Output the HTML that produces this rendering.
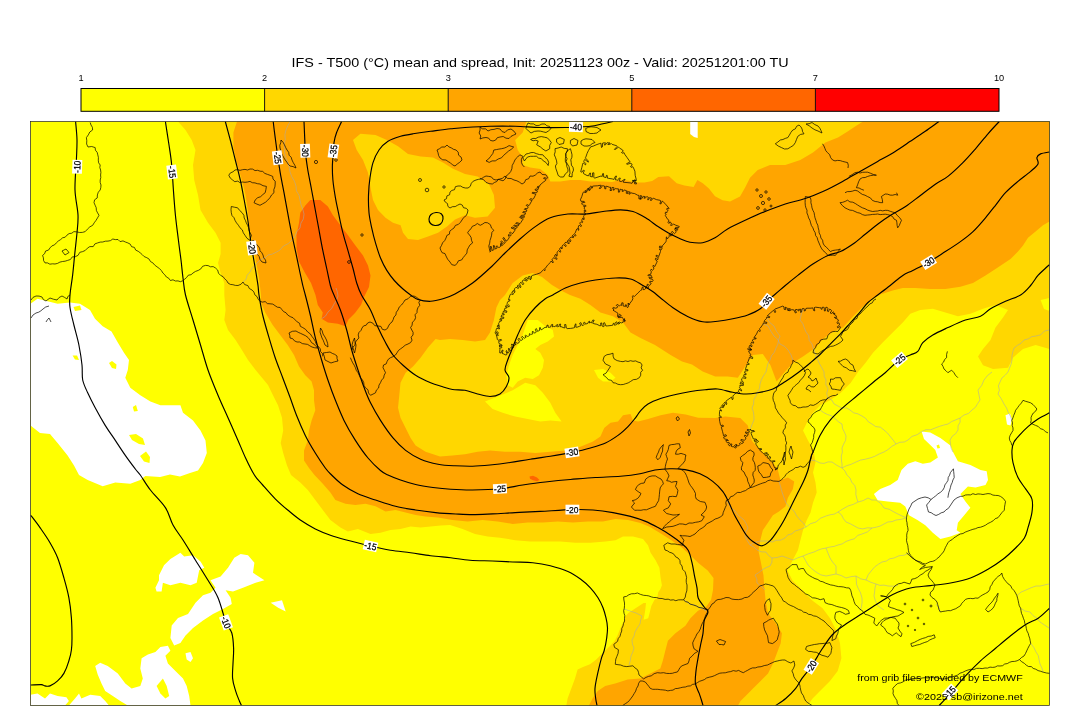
<!DOCTYPE html>
<html lang="en"><head><meta charset="utf-8"><title>IFS - T500 mean and spread</title><style>html,body{margin:0;padding:0;background:#fff;}body{width:1080px;height:718px;overflow:hidden;font-family:"Liberation Sans",sans-serif;}svg{display:block;will-change:transform;transform:translateZ(0);}</style></head><body>
<svg width="1080" height="718" viewBox="0 0 1080 718" font-family="'Liberation Sans', sans-serif"><defs><clipPath id="mapclip"><rect x="30.5" y="121.5" width="1019.0" height="584.0"/></clipPath></defs><rect x="30.5" y="121.5" width="1019.0" height="584.0" fill="#ffff00"/>
<g clip-path="url(#mapclip)">
<path d="M178.0,121.5 L185.5,130.0 L191.7,140.0 L195.5,150.0 L193.0,165.0 L194.2,180.0 L198.0,195.0 L200.5,210.0 L208.0,222.8 L215.5,232.8 L220.6,242.8 L220.6,254.0 L218.0,262.9 L220.6,273.0 L224.3,283.0 L224.3,295.0 L225.6,310.0 L224.3,320.0 L228.0,330.0 L235.6,340.0 L241.9,350.0 L248.0,360.0 L255.6,370.0 L262.0,377.7 L268.0,385.0 L273.0,395.3 L278.0,405.3 L282.0,417.8 L283.2,430.4 L280.7,443.0 L283.2,453.0 L287.0,465.5 L291.0,475.0 L300.3,482.5 L307.8,490.0 L315.3,500.0 L322.8,510.0 L330.4,520.0 L340.4,527.6 L347.9,531.4 L357.9,528.9 L370.5,533.9 L380.5,532.7 L390.5,530.0 L400.5,528.9 L410.6,526.4 L420.6,527.6 L430.6,526.4 L440.6,525.5 L450.0,525.0 L462.6,528.9 L475.0,533.9 L487.6,536.4 L500.0,537.7 L515.2,540.2 L530.2,541.4 L545.3,541.4 L560.3,541.4 L575.4,542.7 L590.4,542.7 L605.5,541.4 L615.5,540.2 L623.0,536.4 L633.0,536.4 L643.0,538.9 L648.0,545.2 L650.6,552.7 L655.6,560.2 L659.4,567.8 L660.6,577.8 L661.9,585.3 L660.5,589.0 L658.2,592.3 L657.4,596.9 L654.4,600.0 L651.3,606.0 L649.8,612.2 L648.2,618.3 L643.6,619.8 L645.2,610.7 L646.0,603.0 L643.6,603.0 L639.0,606.0 L634.4,609.0 L628.3,613.0 L625.2,616.8 L623.7,621.4 L620.7,627.5 L617.6,635.2 L614.5,641.3 L610.0,645.9 L605.3,650.5 L600.7,655.0 L596.0,659.7 L590.0,664.3 L583.0,667.0 L577.6,669.5 L575.0,678.4 L571.3,688.4 L567.6,698.5 L566.3,705.5 L807.6,705.5 L812.6,698.5 L820.0,690.9 L830.0,680.9 L837.7,670.9 L841.4,658.3 L840.0,643.3 L836.4,630.8 L830.0,618.2 L822.6,608.2 L812.6,600.7 L802.6,590.6 L792.5,580.6 L787.5,570.6 L792.5,560.6 L797.9,550.3 L800.4,540.3 L803.0,530.2 L806.7,520.2 L810.5,512.7 L813.0,502.7 L816.7,492.6 L815.5,482.6 L813.0,472.6 L815.5,462.6 L813.5,450.0 L808.0,440.4 L803.0,430.4 L808.0,420.4 L813.0,412.8 L820.5,405.0 L830.5,400.0 L840.5,393.0 L850.6,383.0 L858.0,372.0 L865.6,362.7 L873.0,352.7 L882.7,342.6 L892.7,332.6 L902.8,322.6 L910.3,313.8 L920.3,310.0 L932.8,308.8 L945.4,312.5 L957.9,316.3 L970.4,313.8 L983.0,308.8 L995.5,305.0 L1008.0,310.0 L1003.0,317.6 L995.5,327.6 L990.5,340.0 L983.0,348.9 L978.0,356.4 L983.0,365.2 L993.0,369.0 L1008.0,367.7 L1013.0,357.7 L1023.0,348.9 L1035.6,345.0 L1049.5,348.9 L1049.5,121.5Z" fill="#ffd700"/>
<path d="M1040.6,300.0 L1049.5,298.0 L1049.5,311.0 L1044.0,309.0Z" fill="#ffff00"/>
<path d="M237.0,121.5 L233.4,132.5 L233.4,147.6 L236.5,162.0 L241.0,177.0 L245.3,194.0 L247.8,210.0 L249.2,225.0 L251.7,240.0 L254.2,252.0 L256.7,265.0 L259.0,278.0 L261.0,295.0 L261.0,302.5 L265.2,312.5 L272.7,325.0 L280.2,335.0 L287.7,345.0 L294.0,355.0 L299.0,366.4 L305.3,375.2 L311.6,381.5 L314.0,390.3 L314.0,400.3 L315.3,410.3 L311.6,420.4 L309.0,430.4 L307.8,440.4 L304.0,450.4 L304.0,460.5 L309.0,468.0 L314.5,475.0 L322.8,483.8 L330.4,492.5 L335.4,500.0 L345.4,503.8 L355.4,505.0 L365.5,503.8 L375.5,506.3 L385.5,511.4 L395.5,510.0 L405.6,512.6 L415.6,515.0 L425.6,516.4 L438.0,517.6 L452.5,520.0 L467.6,521.4 L482.6,520.0 L497.7,521.4 L512.7,523.9 L527.7,522.6 L542.8,522.6 L557.8,521.4 L572.9,522.6 L587.9,521.4 L603.0,521.4 L615.5,518.9 L628.0,520.0 L640.5,523.0 L650.0,527.0 L660.0,533.0 L671.0,540.0 L682.0,547.5 L691.0,556.0 L699.0,563.5 L707.7,570.4 L713.5,578.0 L713.0,590.0 L711.0,600.0 L706.0,607.0 L698.0,610.7 L690.4,618.2 L685.4,625.7 L675.4,633.3 L667.9,640.8 L665.3,650.8 L662.8,660.8 L660.3,668.4 L650.3,673.4 L640.3,678.4 L627.7,679.6 L615.2,683.4 L605.2,685.9 L597.7,690.9 L592.6,698.5 L588.9,705.5 L738.0,705.5 L740.5,701.0 L745.6,695.9 L753.0,688.4 L760.6,680.9 L768.0,673.4 L773.0,663.4 L776.9,653.3 L780.7,643.3 L781.9,633.3 L775.6,623.2 L768.0,613.2 L765.6,600.7 L764.4,588.0 L763.5,575.6 L761.0,563.0 L758.5,551.0 L760.3,540.3 L762.8,530.2 L767.9,522.7 L772.9,515.2 L779.0,511.4 L785.4,506.4 L787.9,497.7 L792.9,488.9 L794.2,481.4 L787.9,477.6 L780.4,480.0 L777.9,470.0 L772.9,462.6 L765.3,455.0 L757.8,447.5 L752.0,441.0 L750.3,435.4 L747.8,425.4 L740.3,417.9 L725.2,416.6 L715.2,417.9 L698.2,417.8 L685.7,414.5 L673.0,412.8 L660.6,415.3 L648.0,419.0 L638.0,421.6 L633.0,420.4 L630.5,414.0 L623.0,415.3 L618.0,421.6 L610.5,422.8 L604.2,427.9 L600.4,436.6 L593.0,441.6 L580.4,446.7 L565.3,450.4 L550.3,451.7 L535.3,453.0 L520.0,451.7 L505.0,451.7 L490.0,450.4 L477.6,451.7 L465.0,454.2 L452.5,455.4 L440.0,456.5 L425.6,451.7 L415.6,445.4 L410.6,437.9 L405.6,427.9 L400.5,417.8 L398.0,407.8 L399.3,395.3 L400.5,382.7 L405.6,372.7 L413.0,366.4 L420.6,357.7 L428.0,347.6 L435.6,338.9 L440.0,340.0 L450.0,338.9 L462.6,340.0 L475.0,341.4 L485.0,340.0 L490.0,332.6 L493.9,320.0 L496.4,307.5 L500.0,300.0 L505.0,295.0 L512.7,283.0 L522.7,275.4 L532.8,273.0 L542.0,277.0 L552.0,285.0 L562.0,291.0 L570.0,295.0 L580.4,298.8 L590.4,305.0 L600.4,312.5 L613.0,316.3 L623.0,322.6 L630.5,332.6 L640.5,338.0 L655.0,345.0 L670.6,355.0 L682.0,361.4 L692.0,364.5 L702.7,371.5 L715.2,376.5 L727.7,376.5 L737.8,377.7 L747.8,362.7 L752.8,355.0 L762.8,354.0 L770.4,365.0 L776.6,381.5 L784.0,372.7 L793.0,362.7 L803.0,356.4 L815.5,347.7 L823.0,338.9 L833.0,331.5 L843.0,327.6 L853.0,316.5 L862.0,307.5 L870.0,300.5 L880.0,294.5 L892.7,290.5 L902.8,288.0 L915.3,288.0 L930.3,289.0 L945.4,289.0 L960.4,286.7 L973.0,283.0 L985.5,275.4 L995.5,269.0 L1003.0,264.0 L1010.5,259.0 L1018.0,251.6 L1023.0,245.4 L1028.0,237.8 L1035.6,231.6 L1043.0,225.3 L1049.5,221.5 L1049.5,121.5 L863.0,121.5 L855.5,126.3 L848.0,131.3 L838.0,137.6 L825.4,142.6 L813.0,152.6 L800.3,160.0 L785.3,165.0 L770.0,165.0 L757.7,170.0 L750.0,177.7 L745.0,187.7 L740.0,196.5 L730.0,201.5 L722.6,200.2 L715.0,196.2 L708.9,188.6 L702.8,183.2 L697.4,180.0 L693.6,187.0 L684.4,185.5 L676.7,183.2 L669.0,176.3 L658.3,177.0 L652.2,180.9 L644.5,182.4 L635.3,182.4 L627.7,180.5 L620.0,180.0 L612.0,182.0 L603.0,181.4 L590.4,181.4 L580.4,180.0 L570.4,180.0 L560.3,181.4 L550.3,181.4 L547.8,175.0 L540.3,169.0 L530.2,167.6 L522.7,165.0 L522.7,157.6 L517.7,150.0 L515.2,140.0 L522.7,132.5 L526.5,121.5Z" fill="#ffa500"/>
<path d="M353.0,140.0 L360.4,133.8 L375.5,135.0 L386.8,140.0 L398.0,146.3 L408.0,154.0 L420.6,156.4 L433.0,157.6 L443.0,162.6 L452.5,168.5 L465.0,174.0 L477.6,176.4 L488.9,184.0 L493.9,195.0 L495.0,207.7 L487.6,216.5 L475.0,217.8 L465.0,215.3 L455.0,219.5 L447.0,226.5 L438.0,232.8 L428.0,236.6 L418.0,240.0 L408.0,239.0 L403.0,232.8 L400.6,225.3 L393.0,222.8 L385.5,217.8 L378.0,210.0 L373.0,200.0 L370.5,187.7 L368.0,172.7 L363.0,160.0 L356.7,150.0Z" fill="#ffd700"/>
<path d="M527.7,320.0 L537.8,320.0 L545.3,326.3 L552.8,330.0 L554.0,336.4 L547.8,341.4 L540.3,345.0 L535.3,348.9 L540.3,352.7 L544.0,360.0 L542.8,367.7 L539.0,375.2 L532.8,379.0 L525.2,377.7 L517.7,381.5 L512.7,387.8 L507.7,385.2 L506.4,375.2 L509.0,365.2 L512.7,355.0 L517.7,345.0 L522.7,335.0 L525.2,327.6Z" fill="#ffff00"/>
<path d="M485.0,401.5 L497.7,396.5 L512.7,390.3 L525.2,382.7 L535.3,385.2 L542.8,392.8 L550.3,402.8 L555.3,412.8 L561.6,421.6 L550.3,420.4 L540.3,421.6 L527.7,419.0 L515.2,416.6 L502.7,412.8 L492.6,409.0Z" fill="#ffff00"/>
<path d="M594.0,370.0 L603.0,369.0 L610.5,372.7 L615.5,377.7 L610.5,381.5 L603.0,381.5 L598.0,377.7Z" fill="#ffff00"/>
<path d="M310.3,200.0 L320.3,200.0 L327.9,206.5 L332.9,215.3 L340.4,225.3 L348.0,235.3 L355.4,245.4 L363.0,255.4 L368.0,265.4 L370.5,275.4 L369.0,287.0 L364.5,296.0 L361.0,305.0 L355.0,313.0 L348.5,319.5 L345.4,326.3 L337.9,323.8 L327.9,322.6 L321.6,318.8 L322.8,312.5 L317.8,305.0 L315.5,295.0 L311.0,283.0 L304.5,272.0 L298.8,261.0 L296.5,247.9 L296.5,235.3 L299.0,222.8 L300.3,212.8 L305.3,205.5Z" fill="#ff6600"/>
<path d="M529.5,476.5 L533.0,475.8 L537.0,477.5 L539.5,480.0 L537.0,481.3 L533.0,480.3 L530.0,478.8Z" fill="#ff6600"/>
<path d="M30.5,303.8 L37.5,298.8 L47.6,301.3 L57.6,303.8 L70.0,302.5 L80.0,303.8 L90.0,310.0 L95.0,318.8 L102.7,326.3 L111.5,331.4 L117.8,342.6 L124.0,352.7 L129.0,360.0 L127.8,370.0 L125.3,377.7 L130.3,387.8 L140.3,395.3 L150.4,401.5 L160.4,405.3 L170.4,405.3 L180.4,405.3 L183.0,412.8 L193.0,420.4 L200.5,430.4 L205.5,440.4 L206.8,453.0 L203.0,463.0 L198.0,470.5 L190.0,473.0 L180.0,476.5 L170.0,474.5 L160.0,477.0 L145.4,476.0 L140.3,480.0 L130.3,483.8 L115.3,482.5 L102.7,486.3 L87.7,480.0 L79.0,475.0 L74.0,465.5 L67.6,455.4 L57.6,443.0 L50.0,434.0 L40.0,433.0 L30.5,425.4Z" fill="#ffffff"/>
<path d="M159.0,575.3 L164.0,565.2 L170.4,559.0 L180.4,552.7 L184.2,556.5 L193.0,555.2 L200.5,561.5 L204.3,567.8 L199.2,570.3 L196.7,582.8 L190.5,585.3 L180.4,582.8 L170.4,585.3 L162.9,582.8 L161.6,591.6 L156.6,591.6 L155.4,587.8 L159.0,580.3Z" fill="#ffffff"/>
<path d="M210.5,580.3 L220.6,576.5 L228.0,567.8 L234.3,557.7 L240.6,554.0 L248.0,555.2 L254.4,562.7 L253.0,572.8 L264.4,580.3 L255.6,582.8 L243.0,587.8 L233.0,591.6 L225.6,590.3 L230.6,597.8 L231.8,604.0 L223.0,609.0 L213.0,614.0 L203.0,620.4 L193.0,628.0 L185.5,635.4 L180.4,643.0 L174.2,645.5 L170.4,638.0 L171.7,625.4 L178.0,617.9 L188.0,614.0 L195.5,602.8 L203.0,595.3 L210.5,592.8 L215.5,587.8Z" fill="#ffffff"/>
<path d="M270.7,602.8 L282.0,600.3 L285.7,611.6 L278.2,607.8Z" fill="#ffffff"/>
<path d="M95.2,665.9 L100.2,662.8 L107.7,665.9 L117.8,673.4 L125.3,683.4 L131.6,688.4 L140.3,685.9 L142.8,678.4 L140.3,668.4 L141.6,658.3 L147.9,654.6 L155.4,652.0 L160.4,647.0 L167.9,645.8 L170.4,650.8 L165.4,655.8 L167.9,663.4 L175.4,670.9 L183.0,678.4 L186.7,685.9 L189.2,695.9 L190.5,705.5 L127.8,705.5 L120.3,701.0 L112.8,695.9 L105.2,690.9 L101.5,683.4 L97.7,674.6Z" fill="#ffffff"/>
<path d="M30.5,694.7 L37.5,693.4 L45.0,698.5 L50.0,693.4 L57.6,695.9 L66.4,697.2 L68.9,701.0 L65.0,705.5 L30.5,705.5Z" fill="#ffffff"/>
<path d="M68.9,705.5 L75.0,698.5 L79.0,693.4 L81.4,698.5 L90.2,694.7 L100.2,695.9 L105.2,701.0 L109.0,705.5Z" fill="#ffffff"/>
<path d="M185.5,653.3 L190.5,652.0 L193.0,658.3 L190.5,662.0 L186.7,659.6Z" fill="#ffffff"/>
<path d="M921.6,431.6 L930.3,432.4 L940.4,437.9 L950.4,445.4 L953.0,452.0 L957.9,461.3 L970.4,465.0 L980.5,470.0 L986.7,471.3 L988.0,480.0 L985.5,485.0 L975.5,487.6 L967.9,486.4 L960.4,493.9 L965.4,501.4 L970.4,507.7 L964.2,515.2 L957.9,522.7 L956.7,530.2 L960.4,532.8 L950.4,536.5 L940.4,539.0 L932.8,532.8 L925.3,525.2 L917.8,520.2 L909.0,515.2 L905.3,506.4 L900.2,502.7 L887.7,501.4 L877.7,500.2 L873.9,493.9 L880.2,488.9 L890.2,485.0 L897.7,480.0 L901.5,470.0 L907.8,463.8 L915.3,461.3 L922.8,463.8 L930.3,462.6 L937.9,457.5 L935.3,450.0 L930.3,445.0 L924.0,439.0Z" fill="#ffffff"/>
<path d="M1005.5,415.3 L1010.0,413.5 L1011.8,419.0 L1010.5,425.4 L1007.0,424.5Z" fill="#ffffff"/>
<path d="M690.2,121.5 L697.7,121.5 L697.7,138.0 L694.0,137.0 L690.2,134.0Z" fill="#ffffff"/>
<path d="M109.0,363.0 L112.0,361.0 L116.5,364.5 L116.0,369.0 L112.0,368.0Z" fill="#ffff00"/>
<path d="M129.0,435.0 L136.0,434.0 L143.0,438.5 L145.0,445.0 L139.0,444.0 L132.0,440.0Z" fill="#ffff00"/>
<path d="M140.0,456.0 L146.0,451.5 L150.0,457.0 L149.5,463.0 L144.0,461.5Z" fill="#ffff00"/>
<path d="M132.8,407.0 L136.0,405.0 L137.8,411.0 L134.0,411.6Z" fill="#ffff00"/>
<path d="M72.6,355.5 L77.0,355.5 L79.0,360.0 L75.0,359.5Z" fill="#ffff00"/>
<path d="M73.5,307.0 L80.0,305.5 L81.5,310.0 L75.0,311.0Z" fill="#ffff00"/>
<path d="M156.6,685.9 L162.9,678.4 L166.7,685.9 L169.2,695.9 L165.4,698.5 L160.4,693.4Z" fill="#ffff00"/>
<path d="M936.5,445.5 L939.0,444.5 L940.0,448.0 L937.5,448.5Z" fill="#ffff00"/>
<g fill="none" stroke="#a8a8a8" stroke-width="0.55" stroke-linejoin="round">
<path d="M706.0,611.0 L702.3,608.5 L698.0,607.0 L694.3,604.8 L690.0,604.4 L684.0,600.0"/>
<path d="M624.0,609.0 L630.0,611.0 L636.0,613.0 L642.0,616.0 L640.7,619.9 L640.0,624.0 L637.3,627.9 L635.0,632.0 L634.0,636.2 L632.0,640.0 L632.4,644.1 L634.0,648.0 L632.8,652.1 L631.0,656.0 L630.3,660.6 L629.0,665.0"/>
<path d="M726.5,500.0 L728.7,504.0 L731.0,508.0 L735.0,511.0 L738.0,515.0 L744.0,520.0 L746.3,523.9 L748.0,528.0 L745.9,531.8 L745.0,536.0 L747.2,540.7 L750.0,545.0 L753.9,547.0 L757.0,550.0 L761.3,551.8 L766.0,552.0 L768.5,555.5 L772.0,558.0 L771.9,562.2 L770.0,566.0 L765.9,567.7 L762.0,570.0 L758.6,572.7 L755.0,575.0 L756.8,578.8 L757.0,583.0 L761.2,586.2 L765.0,590.0"/>
<path d="M750.0,545.0 L754.8,542.4 L760.0,541.0 L764.0,541.0 L768.1,541.1 L772.0,542.0 L776.2,540.3 L780.9,540.1 L785.0,538.0 L787.8,534.9 L792.0,533.8 L795.0,531.0 L800.6,529.4 L806.0,527.0 L810.6,523.7 L816.0,522.0 L820.5,518.2 L826.0,516.0 L830.0,514.8 L834.3,514.1 L838.0,512.0 L842.9,508.9 L848.0,506.0 L853.2,504.4 L858.0,502.0 L863.2,500.6 L868.0,498.0 L871.8,500.0 L876.0,500.0"/>
<path d="M779.0,481.4 L780.6,486.7 L782.0,492.0 L783.9,497.5 L786.0,503.0 L789.6,507.4 L794.0,511.0 L796.6,515.8 L800.0,520.0 L803.5,523.1 L806.0,527.0"/>
<path d="M810.5,460.0 L815.5,460.8 L820.0,463.0 L824.1,463.4 L828.0,461.9 L832.0,462.0 L836.8,465.3 L842.0,468.0 L845.0,471.1 L846.9,475.0 L850.0,478.0 L851.7,482.1 L854.8,485.6 L856.0,490.0 L855.8,494.2 L856.7,498.1 L858.0,502.0"/>
<path d="M772.0,558.0 L777.1,557.5 L782.0,556.0 L787.5,558.0 L793.0,560.0 L797.9,557.8 L803.0,556.0 L808.4,553.8 L814.0,552.0 L817.9,550.2 L821.8,548.8 L826.0,548.0 L830.0,547.0 L834.1,546.4 L838.0,545.0 L842.2,543.9 L845.9,541.5 L850.0,540.0 L854.4,538.8 L857.7,535.4 L862.0,534.0 L867.5,531.9 L872.0,528.0 L876.2,527.2 L880.2,526.0 L884.0,524.0 L887.8,522.0 L892.1,521.6 L896.0,520.0 L901.3,519.3 L906.5,517.7"/>
<path d="M803.0,556.0 L805.5,560.5 L808.0,565.0 L811.8,568.7 L816.0,572.0 L820.7,574.8 L826.0,576.0 L831.0,575.0 L836.0,574.0 L841.2,575.5 L846.0,578.0 L850.9,576.7 L856.0,576.0 L860.7,578.8 L866.0,580.0 L870.9,582.3 L876.0,584.0 L879.9,585.4 L884.0,585.1 L888.0,586.0 L892.9,586.2 L897.8,585.6"/>
<path d="M826.0,548.0 L827.9,553.0 L830.0,558.0 L832.7,562.2 L836.0,566.0 L836.0,570.0 L836.0,574.0"/>
<path d="M856.0,576.0 L856.3,580.1 L856.5,584.1 L858.0,588.0 L860.5,592.8 L862.0,598.0 L862.1,602.3 L861.5,606.6 L860.2,610.7"/>
<path d="M876.0,584.0 L875.0,587.9 L874.6,592.0 L874.0,596.0 L875.5,601.2 L878.0,606.0 L884.0,610.0"/>
<path d="M866.0,580.0 L868.3,574.6 L872.0,570.0 L874.9,566.7 L878.3,564.3 L882.0,562.0 L886.2,561.1 L889.8,558.8 L894.0,558.0 L898.9,555.8 L904.2,555.2 L909.0,552.8"/>
<path d="M838.0,512.0 L841.4,514.7 L843.4,518.6 L846.0,522.0 L850.2,523.7 L854.1,525.8 L858.0,528.0 L862.7,528.9 L867.3,527.8 L872.0,528.0"/>
<path d="M876.0,500.0 L880.7,503.3 L884.0,508.0 L889.3,509.3 L894.0,512.0 L898.1,514.1 L902.2,516.1 L906.5,517.7"/>
<path d="M842.0,468.0 L846.6,465.7 L851.4,464.2 L856.0,462.0 L860.5,460.1 L865.3,459.2 L870.0,458.0 L874.8,456.3 L879.3,453.9 L884.0,452.0 L888.1,449.5 L891.8,446.4 L896.0,444.0 L899.9,442.3 L904.2,442.0 L908.0,440.0 L912.0,436.4 L917.2,434.7 L921.6,431.6 L925.9,429.7 L930.7,429.8 L935.0,428.0 L939.3,426.4 L943.6,425.1 L948.0,424.0 L951.7,421.5 L955.9,419.8 L960.0,418.0 L963.9,415.1 L968.5,413.4 L972.0,410.0 L975.4,407.3 L977.6,403.6 L980.0,400.0 L979.0,395.0 L978.0,390.0 L981.7,385.4 L984.0,380.0 L987.5,375.5 L992.0,372.0"/>
<path d="M828.0,398.0 L831.8,400.1 L834.1,404.0 L838.0,406.0 L841.7,408.1 L846.3,407.9 L850.0,410.0 L853.6,412.8 L858.0,413.9 L862.0,416.0 L865.6,418.3 L868.3,421.8 L872.0,424.0 L875.7,426.6 L880.4,427.2 L884.0,430.0 L887.5,433.1 L890.4,436.7 L893.3,440.3 L896.0,444.0"/>
<path d="M820.0,410.0 L823.7,412.6 L827.7,414.6 L832.0,416.0 L835.3,418.7 L838.3,421.8 L842.0,424.0 L842.5,428.3 L844.4,432.1 L846.0,436.0 L845.6,440.3 L843.6,444.1 L842.0,448.0 L842.4,452.0 L841.3,456.0 L841.4,460.0 L842.0,464.0 L842.0,468.0"/>
<path d="M792.9,360.2 L791.0,354.8 L788.0,350.0 L784.6,346.3 L780.0,344.0 L777.8,339.4 L774.0,336.0 L770.8,331.1 L768.0,326.0 L762.8,323.8"/>
<path d="M767.0,318.0 L769.8,322.6 L774.0,326.0 L776.4,331.3 L780.0,336.0 L778.6,340.0 L777.8,344.2 L776.0,348.0 L774.4,352.2 L771.5,355.7 L770.0,360.0 L767.9,363.7 L766.9,367.9 L766.0,372.0 L763.5,375.7 L761.4,379.7 L760.0,384.0 L759.6,388.3 L757.4,392.0 L756.0,396.0 L753.8,399.7 L753.6,404.1 L752.0,408.0 L753.4,411.9 L753.9,415.9 L754.0,420.0 L752.1,424.5 L750.3,429.0"/>
<path d="M803.0,308.8 L801.3,314.3 L800.0,320.0 L802.8,323.6 L804.3,327.8 L806.0,332.0 L808.7,335.7 L809.2,340.4 L812.0,344.0 L813.2,348.0 L814.5,352.1 L816.0,356.0 L817.8,360.1 L819.7,364.1 L822.0,368.0 L824.0,371.8 L824.2,376.2 L826.0,380.0 L825.8,384.5 L828.0,388.8 L826.7,393.4 L828.0,397.8"/>
<path d="M1049.0,330.0 L1044.3,331.1 L1040.7,334.8 L1036.0,336.0 L1031.8,336.6 L1028.1,338.9 L1024.0,340.0 L1021.1,343.2 L1017.4,345.4 L1014.0,348.0 L1012.8,351.9 L1011.9,355.9 L1012.0,360.0 L1011.1,364.2 L1009.5,368.1 L1008.0,372.0 L1005.2,375.2 L1001.9,378.1 L1000.0,382.0 L998.4,385.8 L999.4,390.1 L998.0,394.0 L1001.3,398.8 L1004.0,404.0 L1006.5,407.9 L1008.1,412.1 L1010.4,416.0 L1011.8,420.4"/>
<path d="M960.0,418.0 L960.1,422.1 L958.0,425.9 L958.0,430.0 L955.7,433.6 L952.2,436.3 L950.0,440.0 L950.5,444.1 L951.1,448.2 L953.0,452.0"/>
<path d="M1016.9,595.7 L1021.0,592.1 L1026.0,590.0 L1030.9,587.8 L1036.0,586.0 L1040.4,586.0 L1044.7,584.9 L1049.0,584.0"/>
<path d="M1020.6,608.2 L1024.9,611.0 L1030.0,612.0 L1033.1,615.6 L1037.0,618.4 L1040.0,622.0 L1044.5,625.0 L1049.0,628.0"/>
<path d="M1030.7,643.3 L1033.8,647.4 L1036.0,652.0 L1038.3,655.7 L1039.1,659.9 L1040.0,664.0 L1041.9,668.0 L1043.2,672.2"/>
<path d="M940.4,612.0 L938.8,607.7 L936.0,604.0"/>
<path d="M243.0,282.0 L246.1,279.2 L247.2,275.0 L250.0,272.0 L252.0,268.1 L255.2,265.2 L258.0,262.0 L261.2,259.5 L265.1,257.9 L268.0,255.0 L272.3,254.1 L276.2,252.2 L280.0,250.0 L283.4,246.0 L288.2,243.6 L292.0,240.0 L295.0,236.2 L296.8,231.7 L300.0,228.0 L300.9,223.2 L303.4,218.9 L304.0,214.0 L302.8,209.3 L301.0,204.8 L300.0,200.0 L299.0,195.2 L296.4,190.9 L296.0,186.0 L294.4,181.2 L291.8,176.7 L290.0,172.0 L289.2,167.2 L287.9,162.5 L286.0,158.0 L284.7,153.4 L284.6,148.7 L284.0,144.0 L285.3,139.4 L284.9,134.6 L286.0,130.0 L287.9,125.7 L290.0,121.5"/>
<path d="M321.6,318.8 L325.5,316.1 L328.0,312.0 L331.7,308.5 L334.0,304.0 L336.5,300.3 L338.0,296.0 L337.3,291.9 L336.0,288.0"/>
</g>
<g fill="none" stroke="#000" stroke-width="0.7" stroke-linejoin="round">
<path d="M604.2,356.4 L606.9,354.7 L610.0,354.2 L613.0,353.2 L613.1,356.2 L614.2,359.0 L617.2,360.6 L620.5,361.4 L623.0,361.7 L625.5,360.9 L628.0,361.5 L630.5,360.7 L633.0,361.3 L635.7,360.9 L638.0,362.1 L640.5,362.7 L642.1,365.0 L641.1,367.9 L642.6,370.2 L640.7,372.3 L640.7,375.3 L639.3,377.7 L636.5,379.3 L633.2,379.7 L630.5,381.5 L628.2,382.9 L625.7,383.7 L623.2,384.5 L620.5,384.7 L617.9,384.3 L615.6,383.1 L613.0,382.7 L611.5,380.3 L608.4,379.8 L606.7,377.7 L603.0,374.7 L606.1,373.1 L608.0,370.2 L610.5,366.4 L608.0,365.1 L605.5,364.0 L603.0,360.2Z"/>
<path d="M671.5,444.6 L674.2,444.4 L676.8,443.8 L679.5,443.8 L680.3,447.8 L678.0,449.0 L676.3,451.0 L675.5,454.2 L678.3,454.2 L681.0,453.4 L683.5,454.2 L685.9,455.0 L685.3,457.8 L685.0,460.6 L683.2,463.2 L681.0,465.4 L677.9,468.6 L681.0,469.4 L683.2,470.8 L685.0,472.6 L686.4,475.4 L687.5,478.3 L689.0,483.0 L690.5,485.6 L692.3,487.9 L694.1,490.6 L695.5,493.5 L695.4,496.3 L696.3,499.0 L700.3,501.5 L705.0,502.3 L706.7,507.0 L705.9,509.6 L704.3,511.9 L701.0,515.0 L704.3,516.7 L701.9,520.7 L698.8,521.8 L695.5,522.3 L692.3,523.1 L689.0,523.0 L685.9,524.7 L682.7,524.0 L679.5,523.9 L676.3,525.2 L673.0,526.3 L669.9,526.7 L666.7,527.0 L662.6,528.7 L664.5,526.2 L666.7,523.9 L669.2,522.0 L671.5,519.9 L673.8,518.2 L676.3,516.7 L679.5,514.3 L676.3,514.9 L673.0,515.0 L669.8,514.3 L666.7,513.5 L663.4,510.3 L665.8,508.9 L668.3,507.9 L670.7,503.9 L668.3,500.7 L669.0,496.7 L672.6,496.3 L676.3,496.7 L677.4,493.6 L677.9,490.3 L675.5,486.3 L676.4,484.0 L677.0,481.5 L674.2,481.7 L671.5,482.3 L669.2,481.1 L666.7,480.7 L667.8,478.3 L669.0,475.9 L667.5,472.6 L665.0,469.4 L665.3,466.6 L665.9,463.8 L666.6,461.4 L667.5,459.0 L666.6,456.6 L665.9,454.2 L667.3,451.9 L668.3,449.4 L669.0,445.4Z"/>
<path d="M649.0,476.7 L652.1,475.9 L655.4,475.9 L658.1,477.6 L661.0,479.0 L662.6,481.3 L663.4,483.9 L661.6,485.7 L660.2,487.9 L659.7,491.1 L659.4,494.3 L659.1,497.5 L658.6,500.7 L656.9,503.4 L655.4,506.3 L652.2,507.4 L649.0,508.7 L646.4,509.8 L643.7,509.7 L641.0,510.3 L637.8,510.2 L634.6,510.3 L631.4,507.0 L633.0,505.0 L634.6,503.0 L632.2,500.7 L635.2,499.9 L637.8,498.3 L639.6,496.1 L641.0,493.5 L638.1,491.6 L635.4,489.5 L636.7,486.9 L638.6,484.7 L641.3,483.4 L644.2,483.0 L645.8,479.0Z"/>
<path d="M623.7,596.9 L626.5,596.4 L628.8,594.8 L631.4,593.8 L634.5,593.7 L637.5,593.0 L640.5,594.4 L643.6,595.3 L646.2,595.5 L648.8,595.9 L651.3,596.9 L653.8,597.5 L656.5,597.5 L659.0,598.4 L662.1,598.5 L665.1,599.4 L668.2,599.2 L670.6,600.1 L673.4,599.8 L675.8,600.7 L678.3,599.9 L680.9,599.8 L683.5,599.9 L685.5,601.6 L688.1,602.2 L690.0,604.0 L693.1,604.9 L696.2,605.9 L699.0,607.5 L702.1,607.9 L705.0,609.1 L708.0,609.9 L707.2,612.7 L705.7,615.2 L704.7,618.3 L703.4,621.4 L702.1,623.8 L701.1,626.4 L700.3,629.0 L698.9,631.6 L696.9,634.0 L695.7,636.7 L694.1,639.7 L692.7,642.8 L693.1,646.0 L694.2,649.0 L698.0,651.3 L694.2,653.6 L692.1,656.1 L689.6,658.2 L689.0,660.9 L688.0,663.5 L685.0,664.6 L682.0,665.8 L680.0,667.5 L678.8,669.8 L677.4,672.0 L674.8,672.5 L672.3,673.3 L669.7,673.5 L666.6,673.4 L663.6,672.7 L660.5,673.0 L657.4,672.7 L654.1,673.7 L651.3,675.8 L648.6,676.4 L646.0,677.4 L643.6,678.9 L641.3,676.9 L639.0,675.0 L638.5,672.3 L637.5,669.7 L635.0,667.9 L632.9,665.8 L629.9,666.2 L626.8,666.6 L623.6,666.2 L620.7,665.0 L618.0,664.7 L615.3,664.3 L615.5,661.7 L615.8,659.1 L616.8,656.6 L618.1,653.3 L618.4,649.7 L614.5,647.4 L613.8,644.4 L617.6,641.3 L618.2,638.6 L620.0,636.3 L620.7,633.6 L621.7,631.1 L621.8,628.4 L623.0,626.0 L623.5,623.4 L624.6,621.0 L624.5,618.3 L624.8,615.7 L624.0,613.2 L623.7,610.7 L624.3,608.2 L624.5,605.6 L624.5,603.0 L623.9,600.0Z"/>
<path d="M683.5,599.9 L685.3,597.1 L685.8,593.8 L686.8,590.9 L687.0,588.0 L687.0,585.0 L686.3,582.5 L686.2,580.0 L686.6,577.5 L686.0,575.0 L685.1,571.8 L682.6,569.3 L682.0,566.0 L680.2,563.6 L679.9,560.4 L678.0,558.0 L675.6,556.8 L674.2,554.5 L672.0,553.0 L669.6,552.3 L667.4,550.8 L665.0,550.0 L663.8,545.3 L667.6,542.8 L671.2,544.0 L675.0,544.0 L677.5,544.6 L680.1,544.7 L682.6,545.3 L683.0,542.7 L683.9,540.3 L682.1,537.7 L680.0,535.3 L682.5,535.8 L685.0,535.8 L687.5,536.1 L690.0,536.5 L692.5,535.3 L695.0,534.0 L697.3,531.6 L699.8,529.4 L702.7,527.7 L704.9,526.1 L706.5,523.9 L709.0,522.7 L712.2,521.0 L715.2,519.0 L717.9,518.2 L720.4,516.9 L722.7,515.2 L723.2,512.6 L724.2,510.2 L725.2,507.7 L726.3,505.3 L725.8,502.7 L726.5,500.2 L729.2,499.3 L730.6,496.7 L733.4,495.9 L735.3,493.9 L737.6,492.4 L740.4,492.5 L742.8,491.4 L745.5,490.6 L747.8,488.9 L750.3,487.6 L749.2,484.4 L747.8,481.4 L747.2,478.0 L745.3,475.0 L744.0,472.0 L741.5,470.0 L741.4,467.4 L742.4,465.1 L742.8,462.6 L740.9,460.4 L740.3,457.5 L742.7,455.5 L745.3,453.8 L747.5,451.4 L750.3,450.0 L754.0,452.5 L754.1,455.1 L753.0,457.5 L752.8,460.0 L754.3,462.3 L755.0,464.9 L755.3,467.6 L755.2,470.3 L753.2,472.4 L752.8,475.0 L753.6,477.5 L754.3,480.0 L754.0,482.6 L752.0,485.0 L750.3,487.6 L752.9,487.0 L755.4,485.9 L757.8,484.9 L760.3,483.9 L762.8,483.0 L765.5,482.3 L767.8,480.7 L770.4,480.0 L773.2,481.0 L776.1,481.2 L779.0,481.4 L781.2,480.0 L783.0,478.3 L784.7,476.5 L786.1,474.4 L787.9,472.6 L790.4,471.0 L793.1,469.6 L795.4,467.6 L797.9,467.4 L800.4,466.2 L803.1,467.3 L805.5,466.3 L806.8,463.9 L808.8,462.1 L810.5,460.0 L811.3,457.5 L811.5,454.8 L813.0,452.5 L812.3,450.0 L811.5,447.5 L810.5,445.0 L812.2,442.7 L813.0,440.0 L813.7,437.5 L813.7,434.9 L814.6,432.5 L815.0,430.0 L813.8,427.5 L811.7,425.9 L810.2,423.6 L808.0,422.0 L808.7,419.3 L810.9,417.5 L812.0,415.0 L814.4,412.9 L817.0,411.2 L820.0,410.0 L821.4,407.5 L822.8,404.9 L824.2,402.4 L826.0,400.1 L828.0,398.0 L830.3,396.6 L832.9,395.6 L835.7,395.4 L838.0,394.0"/>
<path d="M757.8,466.0 L760.7,464.8 L763.0,462.6 L766.1,463.1 L769.0,464.0 L770.6,467.3 L772.9,470.0 L770.8,473.0 L770.0,476.5 L766.5,477.3 L763.0,477.6 L761.3,474.6 L759.0,472.0 L758.1,469.1Z"/>
<path d="M708.0,609.9 L710.2,607.1 L712.0,604.0 L714.2,602.8 L715.7,600.6 L718.0,599.5 L720.8,599.3 L723.4,598.5 L726.0,597.5 L729.1,597.7 L731.9,599.1 L735.0,599.5 L738.5,599.6 L742.0,599.0 L744.6,597.6 L747.5,597.3 L750.0,595.8 L751.8,593.7 L753.8,591.8 L755.9,590.0 L757.9,588.1 L759.7,586.0 L762.7,585.2 L765.6,584.0 L768.3,584.5 L770.8,585.3 L773.4,586.0 L775.3,588.1 L776.9,590.5 L778.3,592.9 L779.9,595.5 L781.8,597.9 L783.0,600.7 L785.7,602.2 L788.1,604.2 L790.9,605.6 L793.6,606.6 L796.1,608.1 L798.7,609.5 L801.4,610.3 L803.5,612.1 L806.2,612.7 L808.5,614.3 L811.2,614.7 L813.6,615.9 L816.3,616.3 L818.9,617.8 L821.4,619.5 L824.0,621.0 L825.9,623.1 L827.9,625.0 L829.9,627.0 L831.9,628.9 L833.8,630.9 L833.6,633.4 L832.8,635.8 L831.9,640.6 L835.8,638.7 L836.4,636.1 L837.7,633.8 L838.7,629.0 L841.6,625.0 L837.7,623.0 L836.0,620.8 L834.8,618.2 L835.0,615.3 L835.8,612.4 L839.7,611.4 L842.7,612.7 L845.5,614.3 L849.4,613.4 L848.4,610.4 L845.2,608.6 L841.6,607.5 L839.1,607.0 L836.6,606.4 L834.3,605.5 L831.9,604.6 L828.3,604.0 L825.0,602.6 L824.0,598.7 L820.2,599.7 L817.7,598.7 L815.1,598.0 L812.4,597.8 L810.3,596.3 L808.1,594.8 L805.6,593.9 L803.3,591.9 L801.0,590.0 L798.7,588.0 L796.4,586.4 L794.3,584.5 L791.9,583.0 L789.7,580.3 L788.0,577.3 L787.4,574.7 L786.6,572.1 L786.0,569.5 L788.1,568.0 L790.2,566.5 L791.9,564.6 L796.8,564.6 L797.6,567.1 L798.7,569.5 L801.1,568.6 L803.6,568.5 L805.0,571.0 L806.5,573.4 L809.3,575.5 L812.4,577.3 L815.0,578.6 L817.8,579.5 L820.2,581.2 L822.9,581.8 L825.4,583.1 L828.0,584.0 L830.5,584.9 L833.2,585.3 L835.8,586.0 L838.4,586.6 L841.0,586.7 L843.6,587.0 L846.4,587.8 L849.4,588.0 L850.7,590.3 L851.4,592.9 L852.0,595.9 L853.3,598.7 L854.1,601.7 L855.3,604.6 L857.5,606.3 L859.2,608.5 L863.0,611.4 L865.0,614.3 L868.0,615.0 L870.9,616.3 L874.8,618.2 L873.8,623.0 L876.7,626.0 L879.6,622.0 L881.9,619.9 L884.5,618.2 L887.5,618.0 L890.4,617.3 L895.2,618.2 L897.0,620.7 L899.0,623.0 L898.9,625.6 L898.0,628.0 L899.8,631.0 L902.0,633.8 L901.0,636.7 L898.5,634.9 L896.2,632.8 L892.3,635.8 L890.0,634.0 L887.4,632.8 L885.8,630.5 L884.5,628.0 L880.6,625.0 L882.0,622.5 L884.0,620.5 L886.6,619.2 L889.3,618.1 L892.0,617.0 L895.0,616.4 L898.0,616.0 L901.0,614.2 L904.0,612.4 L900.0,610.4 L897.0,609.8 L894.2,608.5 L891.2,607.7 L888.4,606.5 L889.0,603.5 L890.4,600.7 L888.8,598.4 L886.5,596.8 L883.5,596.3 L880.6,595.8 L883.6,596.1 L886.5,596.8 L888.2,594.1 L890.4,591.9 L892.4,589.7 L893.9,587.0 L896.2,585.0 L898.7,583.7 L901.5,583.3 L904.0,582.2 L906.9,583.1 L909.8,584.0 L911.0,581.7 L911.8,579.2 L914.8,578.6 L917.6,577.3 L920.1,575.2 L923.0,573.6 L925.4,571.4 L927.9,570.1 L930.2,568.5 L932.3,566.6 L928.8,567.0 L925.4,567.5 L922.4,568.3 L919.6,569.5 L922.2,567.2 L925.4,565.6 L922.4,564.4 L919.6,562.7 L917.0,561.0 L914.4,559.4 L911.8,557.8 L909.2,555.2 L906.5,552.8"/>
<path d="M932.3,566.6 L931.2,569.6 L929.3,572.1 L928.0,575.0 L929.2,577.9 L931.3,580.1 L933.3,582.5 L935.0,585.0 L934.0,587.6 L933.0,590.2 L930.6,592.2 L930.0,595.0 L932.1,597.6 L934.9,599.4 L937.0,602.0 L937.7,604.5 L938.4,607.1 L939.0,609.7 L940.4,612.0 L942.9,611.4 L945.4,611.1 L947.9,610.6 L950.5,610.7 L953.1,609.6 L955.8,608.7 L958.1,607.2 L960.5,605.7 L961.8,603.3 L963.7,601.4 L965.5,599.4 L967.9,598.6 L970.5,598.4 L973.0,598.7 L975.5,598.0 L978.0,598.2 L980.3,596.4 L982.8,594.8 L985.4,593.5 L988.0,592.0 L989.7,589.7 L990.2,586.8 L991.9,584.5 L993.0,581.9 L994.7,580.0 L996.3,578.1 L998.1,576.4 L1000.3,575.1 L1001.8,573.0 L1002.6,576.4 L1004.3,579.4 L1006.2,581.7 L1008.1,583.9 L1010.6,585.6 L1011.9,588.3 L1014.0,590.5 L1015.6,593.0 L1016.9,595.7 L1017.6,598.2 L1018.2,600.7 L1018.7,603.3 L1019.3,605.9 L1020.6,608.2 L1021.0,610.8 L1021.5,613.4 L1022.6,615.8 L1023.4,618.3 L1024.4,620.7 L1024.8,623.3 L1025.9,625.7 L1026.3,628.4 L1026.9,630.9 L1028.2,633.3 L1028.8,635.8 L1029.7,638.2 L1030.2,640.8 L1030.7,643.3 L1029.2,645.8 L1027.9,648.3 L1026.7,650.9 L1025.5,653.5 L1024.0,656.0 L1021.5,657.5 L1019.4,659.6 L1021.7,661.7 L1024.4,663.4 L1026.3,665.2 L1028.5,666.5 L1031.3,666.6 L1033.2,668.4 L1035.7,669.2 L1038.1,670.6 L1040.7,671.3 L1043.2,672.2 L1046.6,673.0 L1050.0,673.4"/>
<path d="M750.0,668.9 L752.5,667.9 L755.3,667.9 L757.8,667.0 L761.1,666.7 L764.2,665.6 L767.5,665.0 L769.9,663.8 L772.3,662.7 L774.7,661.6 L777.3,661.0 L779.8,660.4 L782.4,660.0 L785.0,660.0 L787.8,661.8 L790.9,663.0 L793.9,661.0 L794.8,665.0 L793.6,668.1 L791.9,670.9 L793.2,673.7 L793.9,676.7 L795.2,678.9 L796.8,680.9 L798.7,682.6 L799.8,685.0 L800.2,687.5 L800.7,690.0 L801.5,693.0 L803.3,695.5 L804.3,698.3 L805.7,701.0 L807.7,702.7 L809.8,704.1 L812.0,705.5"/>
<path d="M806.5,646.5 L809.1,645.7 L811.7,645.1 L814.3,644.5 L816.9,644.2 L819.4,643.7 L822.0,643.6 L824.6,643.3 L827.3,643.2 L829.9,642.6 L830.9,645.1 L831.9,647.5 L831.4,650.4 L830.9,653.3 L828.0,657.2 L825.1,656.1 L822.0,655.3 L819.1,653.8 L816.3,652.3 L813.7,652.1 L811.1,651.5 L808.5,651.4 L805.6,649.4Z"/>
<path d="M763.6,623.0 L766.2,621.8 L768.5,620.2 L770.9,619.1 L773.4,618.2 L775.2,621.2 L777.3,624.0 L778.1,626.6 L778.6,629.3 L779.2,631.9 L778.7,634.5 L777.9,637.1 L777.3,639.7 L775.0,641.8 L772.4,643.6 L768.5,642.6 L768.0,639.2 L767.5,635.8 L766.0,632.9 L764.6,629.9 L763.8,626.5Z"/>
<path d="M769.5,598.7 L770.1,601.2 L771.0,603.6 L770.9,607.0 L770.5,610.4 L768.8,612.7 L767.5,615.3 L766.3,612.9 L765.2,610.4 L764.8,607.5 L764.6,604.6 L766.6,600.7Z"/>
<path d="M622.7,705.5 L625.2,703.8 L627.7,702.2 L629.6,700.2 L631.2,698.1 L632.8,695.9 L634.2,693.5 L635.7,691.1 L636.5,688.4 L638.0,686.0 L638.7,683.2 L640.3,680.9 L642.9,681.1 L645.3,682.0 L647.0,684.1 L648.7,686.2 L650.3,688.4 L652.7,689.3 L655.3,689.3 L657.8,689.3 L660.3,689.7 L662.9,689.9 L665.4,690.2 L667.9,690.9 L670.4,690.4 L673.0,690.1 L675.3,688.6 L677.9,688.4 L680.4,687.8 L682.9,687.2 L685.4,687.0 L687.8,686.1 L690.4,685.9 L692.5,684.4 L695.1,684.0 L697.3,682.7 L699.5,681.3 L702.0,680.5 L704.4,679.6 L706.5,678.0 L709.2,677.2 L712.0,676.6 L714.6,675.6 L717.2,674.3 L719.8,673.2 L722.5,672.9 L725.3,672.8 L728.0,672.0 L730.7,671.6 L733.3,670.6 L736.1,671.2 L738.7,670.4 L740.9,671.7 L743.3,672.7 L745.5,671.4 L747.8,670.2 L750.0,668.9"/>
<path d="M899.0,705.5 L897.3,703.4 L896.9,700.5 L895.5,698.3 L894.0,696.0 L893.0,693.6 L893.3,690.9 L892.8,688.4 L895.1,685.7 L897.8,683.4 L900.5,682.9 L903.0,681.9 L905.3,680.3 L907.9,679.6 L910.4,679.5 L912.9,679.1 L915.4,678.6 L917.9,678.6 L920.4,678.4 L922.9,677.9 L925.4,677.7 L928.0,677.9 L930.4,677.0 L933.3,677.8 L936.3,677.5 L939.1,678.3 L942.0,679.0 L944.7,678.9 L947.3,678.1 L949.8,677.3 L952.4,676.8 L955.0,676.0 L957.7,675.0 L960.0,673.2 L962.8,672.3 L965.3,671.0 L968.0,670.0 L970.8,669.3 L973.7,669.6 L976.4,668.4 L979.3,668.3 L982.2,668.6 L985.0,668.0 L987.6,668.1 L990.0,667.1 L992.6,667.4 L995.1,667.1 L997.4,665.9 L1000.0,666.0 L1002.6,665.7 L1004.7,664.0 L1007.3,663.6 L1009.5,662.3 L1012.0,661.5 L1014.6,661.4 L1017.1,660.8 L1019.4,659.6"/>
<path d="M985.6,609.4 L987.3,607.1 L989.1,604.9 L991.2,602.9 L993.0,600.7 L994.5,598.1 L996.4,595.7 L998.0,593.2 L997.8,595.7 L996.9,598.2 L996.8,600.7 L995.4,603.2 L994.4,605.8 L993.0,608.2 L990.7,610.3 L988.0,612.0Z"/>
<path d="M910.8,643.6 L914.3,642.4 L917.6,640.6 L920.1,639.4 L922.7,638.4 L925.4,637.7 L928.2,636.4 L931.3,636.0 L934.2,634.8 L935.2,637.7 L932.5,638.7 L929.8,639.9 L927.4,641.6 L924.8,642.4 L922.2,643.4 L919.6,644.5 L917.0,645.0 L914.4,645.8 L911.8,646.5Z"/>
<path d="M906.5,517.7 L906.4,520.2 L907.0,522.7 L907.2,525.2 L907.8,527.7 L908.1,530.3 L907.1,532.7 L906.7,535.2 L906.8,537.8 L906.5,540.3 L907.0,542.8 L907.8,545.2 L908.1,547.8 L908.4,550.3 L909.0,552.8 L910.8,555.6 L913.1,557.9 L915.3,560.3 L917.8,561.2 L920.4,561.9 L922.7,563.4 L925.3,564.0 L927.7,562.9 L930.1,561.7 L932.8,561.3 L935.3,560.3 L937.2,558.4 L939.4,556.8 L940.9,554.6 L942.9,552.8 L944.3,550.4 L945.3,547.7 L946.6,545.3 L947.9,542.8 L949.6,540.9 L951.9,539.8 L953.7,538.0 L955.8,536.7 L957.9,535.3 L960.3,534.0 L963.0,533.5 L965.3,532.1 L967.9,531.1 L970.4,530.2 L972.9,529.3 L975.5,528.7 L977.9,527.6 L980.6,527.2 L983.1,526.3 L985.5,525.2 L987.9,523.5 L990.5,522.3 L993.1,520.8 L995.2,518.7 L998.0,517.7 L1000.0,515.1 L1002.0,512.5 L1004.3,510.2 L1004.5,507.2 L1005.0,504.3 L1005.5,501.4 L1003.4,498.5 L1000.5,496.4 L998.1,495.5 L995.4,495.4 L992.9,495.1 L990.5,493.9 L988.0,493.6 L985.5,494.0 L983.0,494.5 L980.5,494.1 L978.0,493.9 L975.5,494.5 L972.9,493.7 L970.5,494.9 L967.9,494.8 L965.4,495.0 L963.0,496.2 L960.4,496.4 L957.0,497.8 L954.0,500.0 L952.0,503.0 L950.0,506.0 L948.4,508.4 L945.9,509.9 L944.0,512.0 L941.2,512.8 L938.7,514.4 L936.0,515.5 L933.5,514.3 L931.2,512.7 L928.5,512.0 L927.5,508.5 L926.6,505.0 L928.9,502.3 L931.0,499.5 L928.2,497.8 L925.0,497.0 L921.4,497.8 L918.0,499.0 L915.0,501.0 L912.0,503.0 L910.7,506.1 L909.0,509.0 L908.0,511.9 L907.0,514.7Z"/>
<path d="M947.9,497.7 L948.3,495.1 L948.8,492.6 L949.7,490.1 L950.4,487.6 L951.0,485.0 L952.2,482.6 L952.9,480.0 L954.2,477.6 L954.0,474.7 L953.7,471.7 L953.4,468.8 L950.4,472.6 L949.6,475.2 L948.2,477.5 L948.0,480.3 L946.6,482.6 L944.9,484.9 L944.2,487.6 L942.9,490.0 L940.6,492.2 L937.9,493.9 L935.7,495.9 L933.3,497.7 L931.0,499.5"/>
<path d="M1011.8,445.4 L1011.2,442.8 L1009.8,440.5 L1009.3,437.9 L1010.2,435.2 L1011.6,432.8 L1013.0,430.4 L1013.0,427.9 L1012.2,425.4 L1012.5,422.9 L1011.8,420.4 L1012.9,417.9 L1013.7,415.4 L1014.8,412.9 L1015.6,410.3 L1017.5,407.8 L1019.3,405.3 L1021.4,403.0 L1023.0,400.3 L1025.5,401.3 L1028.1,402.0 L1030.6,402.8 L1033.0,404.5 L1035.0,406.7 L1036.9,409.0 L1035.5,411.3 L1033.3,413.0 L1031.9,415.3 L1031.0,417.7 L1031.2,420.3 L1030.6,422.8 L1033.0,424.3 L1035.6,425.4 L1038.3,426.5 L1040.4,428.7 L1043.3,429.5 L1045.4,431.7 L1048.0,432.9"/>
<path d="M775.4,470.0 L777.6,468.1 L778.3,465.0 L780.4,463.0 L782.1,460.7 L783.0,458.0 L784.8,455.8 L785.4,453.0 L785.8,450.5 L785.9,447.9 L785.7,445.3 L786.7,442.9 L785.6,440.4 L785.5,437.6 L784.6,435.1 L782.9,432.9 L783.5,430.2 L785.3,428.0 L785.3,425.2 L786.7,422.8 L784.7,420.2 L782.4,417.9 L780.4,415.3 L778.4,413.0 L777.0,410.4 L775.4,407.8 L775.1,405.2 L774.4,402.7 L773.3,400.4 L772.9,397.8 L773.3,395.1 L774.0,392.5 L776.3,390.5 L776.6,387.8 L778.2,385.3 L779.7,382.7 L781.2,380.2 L782.9,377.7 L783.9,375.3 L785.6,373.4 L788.0,372.2 L788.7,369.6 L790.4,367.7 L791.3,365.2 L792.7,362.9 L792.9,360.2 L795.3,362.0 L798.2,363.1 L800.4,365.2 L802.7,367.3 L804.2,369.9 L805.5,372.7 L804.3,375.6 L802.5,378.0 L800.4,380.2 L798.9,382.5 L796.8,384.2 L794.8,385.9 L792.9,387.8 L791.4,390.4 L789.7,392.9 L787.9,395.3 L788.7,397.8 L790.0,400.2 L790.4,402.8 L792.5,405.1 L795.7,405.8 L798.0,407.8 L800.5,407.7 L803.0,407.0 L805.5,407.0 L808.0,406.6 L810.2,404.9 L813.3,405.4 L815.7,404.3 L818.0,402.8 L820.2,400.9 L822.8,400.0 L825.8,399.7 L828.0,397.8"/>
<path d="M90.2,122.5 L91.0,125.0 L92.4,127.3 L92.6,130.0 L89.8,132.0 L88.3,134.9 L86.4,137.6 L86.8,140.8 L86.6,144.0 L88.0,147.0 L91.7,146.5 L95.2,147.6 L95.4,150.2 L97.2,152.4 L97.8,154.9 L98.4,157.4 L98.3,160.2 L98.6,162.8 L100.2,165.0 L99.8,167.5 L100.6,170.0 L100.9,172.5 L100.6,175.0 L100.8,177.5 L100.2,180.0 L100.2,182.5 L101.0,185.0 L100.8,187.5 L100.2,190.0 L98.3,192.2 L97.4,194.9 L97.2,198.0 L94.6,199.8 L94.0,202.7 L95.1,205.2 L96.2,207.7 L96.4,210.5 L97.6,212.9 L99.0,215.3 L97.5,217.9 L96.0,220.4 L94.2,222.8 L92.7,225.3 L89.8,226.9 L87.4,229.2 L85.2,231.6 L82.4,232.4 L79.6,232.5 L76.7,231.9 L73.9,231.6 L71.8,233.2 L69.1,233.6 L67.0,235.1 L65.2,237.2 L62.6,237.8 L60.6,239.6 L58.3,241.0 L56.3,242.9 L54.5,244.9 L51.9,245.9 L50.0,247.9 L48.5,250.1 L45.6,251.0 L44.6,253.7 L42.6,255.4 L43.4,257.9 L43.6,260.6 L45.0,262.9 L47.5,262.9 L49.9,264.2 L52.5,263.8 L55.0,264.0 L57.5,263.4 L59.9,262.1 L62.5,261.5 L65.1,261.2 L67.6,260.4 L70.4,259.5 L72.3,256.9 L75.5,256.6 L78.1,255.3 L79.8,252.3 L82.7,251.6 L85.3,250.4 L87.4,248.2 L89.8,246.6 L93.2,246.6 L94.9,243.9 L97.7,242.9 L100.2,242.1 L102.8,242.0 L105.3,241.2 L108.0,241.1 L110.5,240.6 L112.8,239.0 L115.3,239.6 L118.0,239.5 L120.1,241.6 L123.0,240.9 L125.4,242.0 L127.8,242.9 L130.2,244.1 L131.6,246.7 L134.4,247.4 L135.7,250.1 L138.2,251.3 L140.3,252.9 L142.3,254.7 L144.2,256.6 L146.8,257.7 L149.1,259.1 L150.5,261.6 L152.9,262.9 L154.7,265.1 L157.0,266.8 L159.3,268.5 L161.4,270.5 L162.9,273.0 L164.8,274.8 L166.4,277.0 L168.8,278.3 L170.4,280.5 L173.0,279.8 L175.4,281.0 L178.0,280.9 L180.4,281.7 L182.8,280.7 L184.8,279.1 L186.7,277.4 L188.3,275.2 L191.1,274.7 L193.0,273.0 L195.5,271.4 L198.3,270.4 L200.8,268.9 L202.6,266.3 L205.5,265.4 L208.1,265.6 L210.5,266.8 L213.2,266.6 L215.5,268.0 L217.7,270.1 L218.5,273.2 L220.6,275.4 L223.1,276.7 L224.7,278.8 L226.7,280.6 L228.0,283.0 L230.3,284.4 L232.9,284.7 L235.4,285.4 L238.0,285.5 L240.9,284.3 L243.0,282.0"/>
<path d="M228.8,175.2 L230.4,172.9 L233.0,171.8 L235.0,170.0 L237.5,169.6 L240.0,170.4 L242.5,169.7 L245.0,169.4 L247.6,170.0 L250.0,169.0 L252.6,169.1 L255.0,170.6 L257.6,170.3 L260.1,171.2 L262.7,171.4 L264.8,173.4 L267.5,174.4 L270.1,175.3 L272.7,176.4 L273.0,179.1 L275.2,181.2 L275.2,184.0 L274.9,186.9 L273.8,189.7 L274.0,192.7 L271.6,194.9 L269.9,197.8 L267.7,200.2 L265.4,202.3 L262.7,203.8 L260.0,205.3 L256.9,204.1 L254.0,202.7 L255.3,199.8 L257.7,197.7 L260.6,196.7 L262.8,194.6 L265.2,192.7 L265.9,189.6 L266.4,186.4 L263.0,185.7 L260.0,184.0 L257.4,183.7 L255.0,182.9 L252.3,182.7 L250.0,181.4 L247.5,182.0 L245.0,182.3 L242.4,182.0 L240.0,182.7 L237.8,181.1 L234.8,181.7 L232.6,180.0 L230.2,178.0Z"/>
<path d="M231.3,206.5 L234.4,207.2 L237.6,207.8 L239.6,210.4 L242.0,212.6 L243.9,215.3 L244.2,218.0 L245.4,220.4 L246.3,222.9 L247.6,225.3 L248.6,227.8 L249.0,230.5 L250.1,232.9 L251.4,235.3 L250.6,237.8 L250.0,240.4 L247.0,238.3 L245.0,235.3 L243.3,232.8 L242.3,229.9 L240.0,227.8 L238.4,225.2 L236.5,222.9 L235.0,220.3 L234.0,217.7 L232.0,215.6 L231.3,212.8 L231.0,209.7Z"/>
<path d="M281.0,140.0 L283.0,142.2 L284.4,144.7 L285.6,147.4 L287.0,150.0 L288.7,152.3 L289.1,155.2 L291.2,157.3 L292.0,160.0 L293.3,162.7 L294.8,165.2 L296.0,168.0 L293.1,166.6 L290.0,166.0 L288.2,164.2 L286.8,162.1 L285.3,160.1 L284.0,158.0 L282.7,155.6 L281.4,153.2 L280.9,150.5 L280.0,148.0 L279.8,145.3 L280.8,142.7Z"/>
<path d="M253.0,240.0 L254.2,242.4 L256.3,244.0 L258.0,246.0 L259.6,248.1 L260.0,250.8 L261.8,252.7 L263.0,255.0 L263.7,257.8 L265.5,260.1 L266.0,263.0 L262.0,262.0 L260.0,259.5 L259.1,256.4 L257.0,254.0 L256.0,251.5 L253.8,249.6 L253.0,247.0 L253.0,243.5Z"/>
<path d="M243.0,282.0 L244.7,284.6 L247.9,285.6 L249.3,288.5 L252.0,290.0 L253.9,292.0 L254.8,294.8 L257.0,296.6 L258.2,299.2 L260.0,301.3 L262.4,302.1 L265.2,301.6 L267.4,303.6 L270.0,303.8 L272.8,304.1 L275.1,305.7 L277.4,307.2 L280.2,307.5 L281.9,309.6 L283.6,311.6 L286.1,312.8 L287.7,315.0 L290.2,316.6 L293.1,317.8 L295.3,320.0 L297.2,321.9 L299.6,323.3 L300.3,326.3 L302.8,327.6 L305.6,329.4 L307.7,332.0 L310.3,333.9 L311.9,336.4 L313.8,338.8 L315.3,341.4 L316.3,344.3 L318.4,346.6 L320.3,348.9 L320.6,351.6 L322.6,353.7 L322.8,356.4"/>
<path d="M350.4,357.7 L351.5,360.3 L352.7,362.8 L354.2,365.2 L355.4,367.7 L356.3,370.4 L358.0,372.7 L359.2,375.2 L360.4,377.7 L362.4,379.9 L363.7,382.4 L364.0,385.4 L365.5,387.8 L368.0,389.8 L368.5,393.0 L370.5,395.3 L373.0,394.1 L375.5,392.8 L376.4,390.1 L378.6,388.0 L379.0,385.1 L380.5,382.7 L381.6,380.1 L383.6,378.0 L384.2,375.2 L385.5,372.7 L384.3,370.2 L383.0,367.7 L383.5,365.0 L386.2,363.9 L387.1,361.4 L388.4,359.2 L390.5,357.7 L393.2,356.6 L395.5,355.0 L397.0,352.8 L398.4,350.5 L400.5,348.9 L402.9,347.2 L405.2,345.2 L408.0,344.0 L410.6,342.6 L412.0,340.2 L411.1,337.2 L413.0,335.0 L413.1,332.3 L411.8,330.0 L410.6,327.6 L412.1,325.2 L412.4,322.2 L414.6,320.2 L415.6,317.6 L415.0,314.8 L417.0,312.6 L417.1,310.0 L418.0,307.5 L419.8,305.3 L418.8,302.2 L420.6,300.0 L418.4,298.7 L416.3,297.2 L414.0,296.0 L410.5,296.3 L408.0,298.8 L405.0,300.0 L403.4,302.6 L401.5,305.0 L399.2,307.1 L398.0,310.0 L396.3,312.2 L395.9,315.0 L394.0,317.0 L393.2,319.6 L392.0,322.0 L389.9,323.7 L388.5,326.0 L387.4,328.5 L385.0,330.0 L382.3,329.3 L380.9,326.4 L378.0,326.0 L374.8,325.7 L372.8,323.1 L370.0,322.0 L367.6,323.0 L366.2,325.2 L363.6,325.9 L362.0,328.0 L361.0,330.4 L359.0,332.4 L358.2,334.9 L358.9,338.0 L357.0,340.0 L355.3,342.3 L354.9,345.2 L352.8,347.3 L352.0,350.0"/>
<path d="M289.0,333.0 L292.3,331.3 L296.0,331.0 L298.2,332.3 L300.6,333.4 L303.0,334.5 L305.7,335.8 L308.1,337.6 L310.0,340.0 L311.5,342.6 L314.1,344.2 L316.0,346.5 L317.8,348.0 L314.8,347.8 L312.0,347.0 L309.8,345.8 L307.6,344.4 L305.0,344.0 L302.3,343.6 L299.8,342.0 L297.0,342.0 L294.5,340.9 L292.7,338.7 L290.0,338.0 L289.8,335.4Z"/>
<path d="M547.8,177.7 L545.9,174.8 L542.2,174.5 L540.0,172.0 L537.5,173.0 L535.4,175.0 L533.0,176.2 L530.0,176.0 L528.7,178.7 L525.7,179.7 L524.5,182.5 L522.0,184.0 L519.5,182.2 L516.9,180.8 L514.0,180.0 L511.1,178.5 L507.5,178.4 L505.0,176.0 L502.4,178.3 L499.2,179.2 L496.0,180.0 L493.4,179.3 L491.4,176.9 L488.7,176.4 L486.0,176.0 L483.6,177.2 L481.3,178.9 L478.6,179.3 L476.0,180.0 L473.2,181.2 L471.3,183.3 L470.3,186.3 L468.0,188.0 L465.4,188.0 L462.9,187.4 L460.6,186.0 L458.0,186.0 L455.4,186.7 L454.5,189.7 L451.9,190.4 L450.0,192.0 L449.6,194.8 L446.9,195.9 L446.5,198.7 L444.0,200.0 L445.3,202.1 L447.5,203.6 L447.9,206.4 L450.0,208.0 L452.4,206.7 L455.2,206.6 L457.6,205.2 L460.0,204.0 L462.3,205.1 L463.5,207.7 L466.2,208.3 L468.0,210.0 L467.4,213.0 L466.2,215.7 L463.6,217.6 L462.0,220.0 L460.4,222.4 L458.4,224.4 L455.4,225.4 L454.0,228.0 L451.8,229.5 L449.8,231.2 L449.4,234.2 L446.9,235.4 L446.0,238.0 L444.7,240.6 L442.6,242.8 L441.5,245.5 L440.0,248.0 L440.9,250.5 L442.1,252.7 L445.0,253.6 L446.0,256.0 L447.6,259.2 L450.0,262.0 L451.8,264.7 L455.0,265.4 L457.1,263.5 L458.4,260.8 L461.6,260.0 L463.2,257.6 L465.0,255.4 L466.9,253.1 L467.2,249.9 L468.6,247.3 L470.1,244.8 L472.6,242.9 L471.5,240.3 L471.1,237.4 L469.5,235.0 L467.6,232.8 L469.0,230.5 L471.0,228.8 L472.3,226.3 L475.0,225.3 L477.3,223.5 L480.2,225.3 L482.6,224.1 L484.9,222.5 L487.6,222.8 L490.4,224.7 L491.5,228.1 L493.9,230.3 L491.9,232.4 L491.6,235.2 L490.9,237.8 L490.0,240.4 L489.7,243.2 L488.8,246.0 L489.4,248.8 L490.0,251.6"/>
<path d="M555.0,148.7 L558.1,148.0 L561.2,147.0 L564.2,148.4 L567.4,148.7 L567.3,151.3 L565.6,153.6 L565.8,156.3 L565.3,158.9 L565.4,161.5 L566.6,164.0 L566.8,166.6 L567.9,169.0 L568.0,171.6 L565.3,173.9 L563.5,177.0 L560.6,177.0 L558.2,175.5 L557.1,172.0 L555.9,168.6 L555.4,166.0 L556.9,163.5 L556.6,160.9 L555.6,157.8 L554.3,154.8 L555.2,151.8Z"/>
<path d="M522.9,157.8 L526.0,154.0 L528.5,153.5 L531.0,152.6 L533.6,152.5 L536.5,153.7 L539.6,154.6 L542.8,154.8 L544.9,157.3 L547.4,159.4 L548.7,162.3 L548.2,165.5 L545.9,162.4 L543.3,160.9 L541.3,158.6 L538.6,158.1 L536.4,156.2 L533.6,156.3 L530.5,156.3 L527.5,157.0 L525.9,159.0 L524.4,161.0Z"/>
<path d="M530.6,139.5 L533.0,138.4 L535.8,138.5 L538.2,137.2 L541.3,136.6 L544.4,137.2 L547.4,137.9 L549.5,140.1 L551.3,142.5 L549.7,145.4 L549.7,148.7 L545.9,151.0 L543.0,149.2 L540.5,147.0 L536.7,144.8 L538.2,141.0 L535.7,140.3 L533.0,140.8Z"/>
<path d="M570.4,148.7 L571.3,151.7 L572.0,154.8 L571.9,157.3 L570.8,159.8 L571.2,162.4 L571.4,165.1 L573.0,167.4 L573.5,170.0 L572.2,173.4 L572.0,177.0 L568.9,176.2 L570.0,173.2 L569.7,170.0 L569.1,166.8 L567.4,164.0 L566.1,161.6 L567.1,158.7 L565.8,156.3 L566.0,153.6 L567.0,151.0Z"/>
<path d="M493.8,150.0 L496.4,149.6 L498.9,149.1 L501.5,148.7 L504.2,148.1 L506.7,147.1 L509.0,145.6 L513.7,147.0 L511.3,149.3 L508.5,151.1 L506.0,153.3 L503.6,155.4 L501.5,157.8 L498.2,159.0 L495.3,160.9 L492.1,160.9 L489.2,162.4 L486.0,160.9 L488.7,158.9 L490.7,156.3 L492.9,153.4Z"/>
<path d="M437.0,150.0 L439.5,148.7 L441.8,147.0 L444.9,147.0 L447.0,145.0 L448.9,146.9 L451.3,147.9 L453.5,149.3 L456.0,150.0 L458.2,152.1 L458.6,155.2 L461.1,157.1 L462.0,160.0 L459.8,162.2 L457.3,164.0 L455.0,166.0 L452.5,164.9 L450.5,162.9 L448.2,161.6 L446.0,160.0 L442.7,159.8 L440.0,158.0 L438.6,155.5 L438.0,152.7Z"/>
<path d="M556.6,139.0 L560.0,137.5 L564.3,139.5 L563.5,143.5 L559.0,144.5 L556.6,142.0Z"/>
<path d="M570.4,140.5 L574.0,138.5 L578.0,140.5 L577.0,145.0 L572.5,146.0 L570.4,143.5Z"/>
<path d="M581.0,141.0 L583.3,139.5 L586.0,138.8 L589.0,139.1 L592.0,139.5 L595.0,142.5 L592.2,143.6 L590.0,145.6 L587.0,146.1 L584.0,146.0 L581.0,144.0Z"/>
<path d="M585.7,128.5 L588.3,127.4 L591.0,126.8 L594.0,127.1 L597.0,127.5 L601.0,130.0 L598.9,131.3 L597.0,133.0 L593.5,133.5 L590.0,133.5 L586.0,131.5Z"/>
<path d="M480.0,178.5 L483.5,179.6 L486.0,182.4 L489.1,183.6 L492.3,184.0 L494.4,182.5 L496.8,181.5 L498.4,179.3 L503.0,180.8 L505.2,179.0 L506.0,176.2 L508.6,174.1 L510.7,171.6 L511.9,168.7 L512.2,165.5 L513.8,162.5 L515.2,159.4 L517.5,157.1 L519.8,154.8 L522.9,156.3 L521.4,159.2 L521.4,162.4 L522.5,165.0 L524.4,167.0"/>
<path d="M480.0,127.0 L482.4,128.8 L485.7,128.9 L488.0,131.0 L490.9,129.7 L494.0,129.4 L497.0,128.5 L500.1,129.0 L502.1,131.6 L505.0,132.5 L507.5,129.9 L511.0,129.0 L513.9,131.1 L516.0,134.0 L513.4,135.2 L511.0,136.4 L509.0,138.5 L506.0,138.2 L503.2,136.5 L500.0,137.0 L497.3,137.7 L495.6,140.1 L493.0,141.0 L490.4,140.4 L488.6,138.1 L486.0,137.5 L482.9,137.9 L480.0,139.0 L480.8,136.0 L479.1,133.0 L480.1,130.0Z"/>
<path d="M528.0,123.0 L530.7,123.9 L533.6,123.9 L536.0,125.5 L539.1,125.4 L541.9,124.0 L545.0,124.0 L546.8,125.8 L549.5,126.4 L551.0,128.5 L548.7,130.8 L546.0,132.5 L543.4,131.9 L540.7,131.2 L538.0,131.0 L534.3,131.4 L531.0,133.0 L528.4,130.9 L526.0,128.5 L526.7,125.6Z"/>
<path d="M775.3,143.8 L777.9,142.0 L780.3,140.0 L782.9,139.5 L785.3,138.4 L787.8,137.6 L789.4,135.1 L790.9,132.4 L792.8,130.0 L795.3,128.9 L796.6,126.3 L799.0,125.0 L800.9,126.8 L802.1,129.1 L802.6,131.7 L804.0,133.8 L800.6,134.4 L797.8,136.3 L796.5,139.4 L795.3,142.6 L793.4,145.4 L790.6,147.1 L787.8,148.8 L784.5,149.0 L781.5,147.6 L778.2,146.0Z"/>
<path d="M806.0,124.0 L809.1,123.7 L812.0,122.5 L814.8,124.6 L818.0,126.0 L819.8,128.1 L821.0,130.5 L822.0,133.0 L818.0,131.0 L814.9,129.8 L812.0,128.0 L809.2,125.8Z"/>
<path d="M805.3,196.5 L807.9,197.0 L810.4,197.7 L811.0,200.2 L810.9,202.8 L811.6,205.3 L812.0,207.9 L812.9,210.3 L814.1,212.7 L814.5,215.3 L815.0,217.8 L815.9,220.3 L816.6,222.8 L817.8,225.2 L818.2,227.8 L818.9,230.3 L819.1,232.9 L820.4,235.3 L820.9,238.0 L822.6,240.2 L823.0,243.0 L824.2,245.4 L826.5,247.3 L828.4,249.4 L830.4,251.6 L832.8,250.5 L835.4,250.1 L837.9,249.8 L840.4,249.0 L838.5,251.0 L837.0,253.2 L835.4,255.4 L832.9,255.1 L830.4,255.5 L827.9,255.4 L825.6,252.7 L822.9,250.4 L821.3,248.1 L820.1,245.6 L819.0,243.0 L817.9,240.4 L817.2,237.7 L815.6,235.5 L815.2,232.7 L813.8,230.4 L812.9,227.8 L811.4,225.5 L810.6,222.9 L809.9,220.3 L808.6,217.9 L807.9,215.3 L806.9,212.9 L807.0,210.2 L805.9,207.8 L805.3,205.3 L805.1,202.4 L805.2,199.4Z"/>
<path d="M840.0,202.7 L842.7,202.3 L845.2,201.4 L847.6,200.2 L849.9,201.9 L852.8,202.2 L855.3,203.5 L857.6,205.0 L860.0,206.5 L862.4,207.8 L865.0,208.7 L867.4,210.0 L870.0,210.9 L872.7,211.5 L875.2,211.2 L877.7,211.0 L880.2,210.3 L882.7,210.9 L885.2,210.3 L887.8,210.4 L890.3,211.3 L892.7,212.1 L895.2,212.8 L897.2,215.4 L899.6,217.6 L901.5,220.3 L900.3,222.9 L899.3,225.5 L897.7,227.8 L897.1,225.3 L896.9,222.8 L896.5,220.3 L894.1,219.1 L892.6,216.6 L890.2,215.3 L887.7,214.6 L885.3,214.2 L882.7,214.4 L880.2,214.6 L877.7,214.0 L875.2,214.3 L872.6,214.4 L870.1,214.8 L867.5,215.0 L865.0,215.3 L862.4,214.6 L860.1,213.2 L857.4,212.6 L855.0,211.5 L852.6,210.4 L849.9,210.1 L847.4,209.0 L845.0,207.8 L842.3,205.5Z"/>
<path d="M845.0,192.7 L847.4,191.6 L850.0,191.6 L852.6,191.1 L855.0,190.2 L857.7,191.0 L860.0,192.8 L862.3,194.4 L865.0,195.2 L867.6,196.6 L870.4,197.9 L872.4,200.4 L875.2,201.5 L877.7,201.8 L880.1,202.6 L882.7,202.7 L882.3,199.5 L881.4,196.5 L885.2,194.0 L887.7,194.2 L890.1,195.1 L892.6,195.2 L895.2,194.5 L897.7,195.2 L896.5,192.7"/>
<path d="M848.9,176.4 L852.0,174.7 L855.0,172.7 L857.5,172.2 L860.1,173.0 L862.6,172.3 L865.2,172.2 L867.7,172.2 L870.6,173.3 L873.4,174.5 L876.4,175.2 L873.5,175.2 L870.5,175.6 L867.7,176.4 L865.2,177.5 L862.4,177.7 L860.0,179.0 L858.6,181.8 L857.6,184.8 L856.4,187.7 L859.1,188.0 L861.4,189.3 L863.9,190.2"/>
<path d="M822.5,143.8 L823.9,145.9 L824.9,148.3 L825.8,150.7 L827.5,152.6 L829.7,154.8 L830.7,157.7 L832.6,160.0 L835.0,160.9 L837.6,160.4 L840.2,160.6 L842.6,161.4 L845.1,162.0 L847.6,162.6 L848.3,165.3 L848.0,168.0"/>
<path d="M804.0,372.0 L805.6,370.0 L808.0,369.0 L809.8,370.8 L811.0,373.0 L810.0,375.3 L808.0,377.0 L810.5,378.5 L812.0,381.0 L814.3,379.9 L816.0,378.0 L816.9,380.5 L818.0,383.0 L816.1,385.1 L814.0,387.0 L811.2,386.7 L809.0,385.0 L807.1,386.7 L806.0,389.0 L808.8,390.1 L811.0,392.0"/>
<path d="M947.4,351.4 L946.6,354.5 L946.6,357.7 L944.6,359.5 L943.6,362.1 L941.6,364.0 L943.0,366.4 L944.0,369.0 L946.0,370.8 L947.9,372.7 L951.6,370.2 L953.8,372.5 L955.4,375.2 L957.9,377.7"/>
<path d="M840.5,327.6 L838.0,331.4 L835.4,331.4 L832.9,331.6 L830.5,332.6 L828.0,335.3 L826.8,338.9 L823.6,339.2 L820.5,340.0 L819.3,342.9 L816.5,344.7 L815.5,347.7 L813.6,349.9 L813.0,352.7 L815.5,353.5 L818.0,354.0 L820.5,352.0 L823.0,350.2 L825.6,349.0 L828.0,347.6 L830.5,346.4 L833.2,346.1 L835.6,345.1 L838.0,343.9 L840.7,342.2 L843.0,340.0 L840.5,336.4 L841.9,334.0 L843.0,331.4 L846.8,330.0 L848.4,328.1 L849.4,325.6 L851.2,323.8 L853.0,322.0 L854.3,319.6 L857.0,318.4 L857.8,315.6 L860.0,314.0 L861.9,311.9 L863.8,309.8 L865.9,307.9 L868.0,306.0 L869.7,304.0 L872.3,302.8 L873.6,300.3 L876.0,299.0"/>
<path d="M838.0,361.4 L840.7,361.1 L843.0,359.7 L845.6,359.0 L848.3,360.7 L850.2,363.6 L853.0,365.2 L854.0,368.5 L855.6,371.5 L852.5,370.7 L849.3,370.2 L846.4,367.9 L843.0,366.5 L840.6,363.8Z"/>
<path d="M830.5,379.0 L833.1,379.3 L835.4,377.8 L838.0,377.7 L840.5,377.7 L842.0,381.1 L844.3,384.0 L842.0,386.9 L840.5,390.3 L837.6,389.8 L834.7,389.3 L831.8,389.0 L830.9,386.3 L829.3,384.0 L830.5,381.6Z"/>
<path d="M789.0,452.0 L789.8,448.9 L791.0,446.0 L791.8,449.1 L793.0,452.0 L792.3,455.5 L791.5,459.0 L790.4,455.4Z"/>
<path d="M783.0,458.0 L783.8,455.0 L784.5,452.0 L785.0,455.5 L785.5,459.0 L784.6,462.0 L784.0,465.0 L783.7,461.5Z"/>
<path d="M716.4,641.0 L720.0,639.5 L722.8,640.5 L725.6,641.5 L724.0,645.0 L721.5,644.5 L719.0,644.5Z"/>
<path d="M676.0,418.0 L678.0,416.5 L679.5,419.0 L677.5,421.0Z"/>
<path d="M688.0,432.0 L689.5,429.5 L690.5,433.0 L689.0,436.0Z"/>
<path d="M656.2,457.4 L657.2,454.7 L658.5,452.1 L659.4,449.4 L661.2,446.9 L663.4,444.6 L662.7,447.8 L662.6,451.0 L661.3,454.2 L660.2,457.4 L657.8,459.8Z"/>
<path d="M320.5,328.0 L322.2,330.8 L323.0,334.0 L324.9,336.9 L326.5,340.0 L327.6,343.4 L328.0,347.0 L325.0,345.0 L324.1,342.6 L323.2,340.2 L322.0,338.0 L321.0,335.0 L320.0,332.0Z"/>
<path d="M323.0,353.0 L326.5,352.5 L330.0,352.0 L332.3,353.4 L334.8,354.4 L337.0,356.0 L337.0,358.6 L338.0,361.0 L334.5,361.8 L331.0,363.0 L328.0,361.5 L325.0,360.0 L324.3,356.4Z"/>
<path d="M352.0,345.0 L353.0,341.4 L354.5,338.0 L355.0,341.6 L356.0,345.0 L355.7,347.7 L355.2,350.4 L354.5,353.0 L353.7,350.3 L352.9,347.6Z"/>
<path d="M62.0,251.0 L66.0,249.0 L69.0,252.5 L65.0,255.0 L63.5,253.0Z"/>
<path d="M31.0,300.0 L33.0,297.4 L36.0,296.0 L39.1,296.1 L42.0,297.0 L43.4,299.6 L46.0,301.0 L48.0,299.4 L50.0,298.0 L53.4,299.2 L57.0,300.0 L59.1,297.5 L62.0,296.0 L64.6,297.4 L67.0,299.0 L67.8,296.5 L70.0,295.0"/>
<path d="M31.0,318.0 L33.0,315.0 L36.0,313.0 L38.7,312.2 L40.9,310.8 L43.0,309.0 L45.7,307.0 L49.0,306.0"/>
<path d="M46.0,322.0 L47.3,319.9 L49.0,318.0 L51.0,322.0"/>
<path d="M510.1,294.9 L510.8,293.9 L513.1,294.5 L513.6,293.5 L511.8,292.6 L512.7,291.2 L513.4,290.4 L514.5,292.7 L514.9,291.8 L514.4,289.1 L514.9,288.3 L516.0,287.2 L518.3,288.5 L519.0,287.4 L517.0,286.2 L517.5,285.8 L518.5,284.8 L520.5,287.7 L520.9,286.7 L519.5,283.8 L519.9,283.2 L521.0,282.2 L522.9,284.8 L523.7,283.6 L522.0,281.2 L522.9,280.8 L523.5,279.8 L526.7,281.1 L527.4,279.9 L524.5,278.8 L525.2,278.1 L526.3,277.6 L528.0,279.0 L529.1,278.5 L527.8,277.1 L529.3,276.5 L530.1,276.4 L530.1,279.8 L531.1,279.1 L531.6,275.9 L532.7,275.3 L536.7,274.2 L540.7,272.7 L542.6,270.4 L543.5,269.7 L544.8,270.7 L545.3,269.9 L544.5,268.7 L545.4,268.3 L547.5,265.2 L550.3,262.5 L551.0,261.1 L553.0,262.9 L553.3,262.1 L552.0,259.7 L552.8,258.7 L553.5,257.7 L556.8,259.4 L557.1,258.4 L554.5,256.4 L554.9,255.1 L556.0,254.3 L556.7,256.3 L557.3,255.1 L557.0,252.8 L557.6,251.5 L558.5,250.5 L560.3,252.3 L560.7,251.2 L559.5,249.0 L560.4,247.7 L561.1,247.2 L561.7,249.0 L562.3,248.2 L562.1,246.2 L562.7,245.2 L563.6,244.7 L565.8,246.6 L566.2,245.7 L564.6,243.7 L565.0,242.7 L566.1,242.2 L569.0,243.7 L569.5,242.8 L567.1,241.2 L568.1,240.7 L568.6,239.6 L570.2,241.9 L570.9,240.8 L569.6,238.6 L570.2,237.7 L571.1,237.1 L573.4,237.6 L574.0,236.7 L572.1,236.1 L572.6,235.4 L573.6,234.6 L575.4,236.1 L575.9,235.3 L574.6,233.6 L575.2,232.9 L576.7,229.1 L577.6,228.5 L578.5,230.4 L578.8,229.3 L578.2,227.1 L578.7,226.0 L579.2,225.1 L581.1,226.6 L581.5,225.4 L579.9,223.8 L580.1,222.7 L581.0,221.7 L582.4,222.6 L582.7,221.7 L581.7,220.2 L582.5,218.7 L582.9,217.9 L583.8,219.8 L584.2,218.7 L583.6,216.4 L584.0,215.6 L584.2,214.2 L585.7,214.7 L585.5,213.3 L584.2,212.7 L584.4,211.9 L584.2,210.4 L585.9,211.5 L585.7,210.3 L584.2,208.9 L584.5,207.5 L583.6,206.7 L586.2,206.1 L585.5,205.3 L582.9,205.1 L582.2,204.4 L581.7,202.9 L584.9,202.3 L584.1,201.4 L581.0,201.3 L580.4,199.8 L581.8,196.5 L583.1,192.4 L583.7,192.1 L586.1,192.6 L587.0,191.5 L584.7,191.2 L585.6,190.9 L586.2,190.0 L588.3,190.3 L589.2,189.3 L587.2,189.1 L588.3,188.7 L588.7,187.9 L589.5,190.7 L590.4,189.6 L589.7,187.0 L590.7,186.2 L591.4,186.3 L591.3,188.2 L592.5,187.9 L592.7,186.1 L593.6,186.0 L597.4,185.8 L600.2,185.3 L601.3,185.4 L599.3,188.5 L600.6,188.4 L602.6,185.6 L603.7,185.9 L604.5,186.0 L604.8,188.8 L605.9,188.8 L605.8,186.3 L606.9,186.3 L609.9,187.4 L610.8,187.3 L610.0,190.5 L611.5,190.5 L612.1,187.5 L613.2,187.4 L614.2,187.9 L613.0,190.1 L614.1,190.0 L615.9,188.3 L616.8,188.9 L618.4,188.8 L618.4,192.2 L619.5,192.1 L620.1,189.1 L621.2,189.6 L622.6,189.6 L622.1,191.3 L623.3,191.4 L624.2,189.9 L625.1,190.3 L626.4,190.6 L626.3,193.3 L627.6,193.6 L627.7,191.1 L628.4,191.7 L629.6,191.8 L628.8,194.0 L629.9,194.2 L630.8,192.3 L631.7,193.1 L634.7,193.6 L637.6,195.2 L638.9,195.4 L638.9,198.9 L640.2,198.8 L640.2,195.6 L641.2,195.8 L642.1,196.0 L640.0,199.2 L641.3,199.1 L643.4,196.3 L644.1,196.4 L645.2,196.6 L643.8,198.1 L645.0,198.2 L646.5,196.9 L647.8,196.8 L648.4,197.3 L647.7,199.8 L648.6,199.7 L649.7,197.5 L650.7,197.8 L651.5,198.0 L650.4,200.4 L651.5,200.4 L652.8,198.4 L653.6,198.3 L656.4,199.6 L660.0,200.3 L660.8,200.8 L659.9,203.8 L661.1,203.8 L662.1,201.2 L662.8,201.3 L666.1,204.8 L669.0,208.2 L668.8,208.9 L667.1,208.2 L666.7,209.5 L668.1,210.4 L667.3,211.2 L666.9,212.7 L665.5,212.2 L665.0,213.5 L666.2,214.2 L665.3,215.5 L667.7,219.4 L668.9,220.2 L668.0,222.5 L668.9,223.5 L669.9,221.7 L670.5,223.0 L671.9,223.4 L670.5,225.3 L671.5,225.5 L673.7,224.1 L675.3,225.0 L679.3,226.5 L678.8,227.5 L675.7,227.3 L675.3,228.5 L678.1,228.8 L677.6,229.5 L676.9,230.6 L675.3,228.0 L674.8,229.3 L676.2,231.9 L675.6,232.7 L674.5,233.6 L672.2,231.3 L671.4,232.2 L672.9,234.6 L671.5,235.6 L670.7,236.1 L670.0,233.5 L669.3,234.3 L669.1,237.1 L668.2,237.9 L667.2,238.9 L666.6,236.8 L666.3,237.6 L666.2,240.5 L665.9,241.8 L662.6,245.6 L662.6,246.4 L659.5,246.2 L659.4,247.5 L662.2,247.7 L661.9,248.7 L661.4,249.7 L659.6,248.8 L659.5,249.7 L661.0,251.1 L660.4,251.7 L659.1,255.6 L659.0,256.4 L656.2,255.2 L656.1,256.5 L658.5,257.7 L657.8,258.8 L657.8,259.7 L655.5,258.3 L655.3,259.6 L657.2,261.1 L656.8,262.3 L655.5,265.1 L654.9,266.5 L653.2,265.3 L652.9,266.2 L653.9,268.1 L653.4,269.5 L652.4,270.3 L651.2,269.2 L650.6,270.4 L651.4,271.9 L650.9,273.3 L651.0,274.1 L647.8,275.1 L648.4,275.9 L651.4,275.6 L651.6,276.4 L652.2,277.9 L648.9,277.6 L649.6,278.6 L652.6,279.4 L653.2,280.7 L652.2,281.6 L650.0,281.2 L649.5,282.3 L651.2,283.1 L650.7,284.2 L649.8,285.4 L647.3,284.2 L647.1,285.1 L648.8,286.9 L648.3,287.8 L646.9,288.4 L646.6,285.9 L645.8,286.4 L645.4,288.9 L644.3,289.6 L643.1,289.6 L643.1,286.8 L642.0,287.5 L641.6,290.1 L640.7,290.3 L637.9,293.0 L635.8,295.1 L634.4,296.5 L632.8,295.7 L632.4,296.4 L632.9,298.5 L632.2,300.3 L629.5,303.9 L629.3,304.9 L628.2,303.0 L628.0,303.8 L628.6,306.4 L627.7,307.6 L626.9,307.1 L626.7,305.0 L625.4,304.8 L625.4,306.6 L624.3,306.2 L623.1,305.9 L623.1,302.9 L621.8,302.8 L621.6,305.4 L620.2,305.1 L619.4,305.8 L617.1,304.4 L616.2,305.3 L617.9,306.8 L617.1,307.7 L615.6,308.2 L613.4,307.5 L612.5,308.3 L614.1,309.2 L613.0,310.2 L616.8,312.5 L617.9,313.2 L617.5,316.4 L618.4,316.7 L619.4,314.2 L620.8,315.0 L621.2,315.9 L617.9,317.1 L618.8,317.7 L622.2,317.2 L623.0,318.5 L625.5,321.0 L624.5,321.7 L624.6,318.7 L623.4,319.5 L623.2,322.2 L621.9,322.8 L621.2,322.9 L619.3,322.0 L618.0,322.7 L619.8,323.4 L618.8,323.9 L617.8,324.1 L616.7,321.8 L615.5,322.5 L616.5,324.6 L615.4,325.0 L614.2,325.1 L614.2,323.1 L613.3,323.4 L612.6,325.3 L611.1,325.5 L607.3,325.9 L605.9,326.0 L604.6,322.7 L603.3,323.2 L604.2,326.2 L603.2,326.7 L602.1,326.0 L601.7,322.9 L600.7,323.0 L600.8,325.7 L599.9,325.8 L596.9,324.3 L593.9,323.7 L592.6,323.2 L594.2,320.2 L592.8,320.1 L591.3,322.9 L590.2,322.4 L589.3,323.0 L589.6,321.2 L588.5,321.7 L587.8,323.4 L586.9,323.6 L585.6,324.2 L584.7,322.2 L583.5,322.8 L584.1,324.6 L583.3,325.4 L582.1,325.3 L580.9,322.6 L579.6,323.3 L580.8,325.7 L579.7,326.2 L577.1,327.2 L575.8,327.2 L576.0,323.8 L575.0,324.5 L574.5,327.6 L573.2,328.0 L570.7,328.4 L567.1,328.6 L566.3,328.0 L565.8,324.5 L564.6,324.6 L565.0,327.7 L564.1,327.9 L561.0,326.6 L560.0,326.7 L560.7,324.1 L559.7,324.1 L558.7,326.5 L557.5,326.7 L556.5,326.4 L557.9,324.6 L556.9,324.8 L554.9,326.6 L553.5,326.4 L552.4,326.9 L552.7,324.4 L551.3,324.8 L550.7,327.0 L549.5,327.3 L548.2,327.3 L548.0,325.0 L546.9,325.4 L546.5,327.5 L545.0,327.3 L541.9,329.5 L541.0,329.8 L540.1,327.3 L539.5,327.9 L539.6,330.4 L538.5,330.9 L537.6,331.4 L536.4,328.5 L535.3,329.4 L536.3,332.1 L535.4,332.7 L534.3,333.1 L533.0,331.2 L532.1,331.9 L532.9,333.8 L531.7,334.1 L530.9,334.8 L529.9,333.5 L529.2,334.0 L529.6,335.4 L528.4,336.2 L527.6,336.4 L525.6,335.3 L524.8,335.9 L526.2,337.1 L524.9,338.0 L524.2,338.3 L522.3,336.3 L521.5,337.3 L522.9,339.3 L521.6,340.2 L520.9,340.8 L519.0,338.2 L518.0,339.3 L519.5,341.8 L518.9,342.8 L517.5,343.3 L515.4,342.2 L514.7,343.0 L516.2,344.3 L515.0,344.7 L514.5,345.8 L511.8,344.0 L511.3,345.1 L513.7,346.8 L513.2,347.8 L512.3,348.2 L511.5,346.6 L510.9,347.6 L511.5,349.2 L510.9,349.9 L510.1,350.8 L508.9,348.1 L508.4,349.1 L509.3,351.8 L508.5,352.2 L507.9,353.2 L506.5,350.5 L506.1,351.4 L507.1,354.2 L506.0,355.1 L503.1,353.7 L502.2,353.5 L503.1,350.2 L502.1,350.2 L501.0,353.0 L499.7,352.8 L499.9,349.2 L499.6,348.3 L501.8,347.7 L501.5,346.5 L499.4,347.0 L499.7,346.0 L499.2,345.0 L502.2,345.8 L501.8,344.8 L499.1,343.6 L498.8,342.6 L498.6,341.6 L501.8,340.1 L501.1,339.4 L498.1,340.3 L497.4,339.5 L496.6,335.6 L495.9,334.9 L498.4,335.4 L497.8,334.4 L495.4,333.6 L495.2,332.4 L495.4,331.6 L498.1,333.7 L498.2,332.6 L495.9,330.3 L496.4,329.1 L496.7,328.3 L499.4,328.9 L499.6,327.8 L497.3,326.9 L497.5,325.8 L498.1,324.9 L499.1,326.8 L499.2,326.0 L498.6,323.6 L499.2,322.5 L499.4,321.6 L501.5,320.9 L501.8,319.5 L499.9,320.2 L500.0,319.1 L500.6,318.2 L503.7,318.4 L503.8,317.2 L501.1,316.9 L501.4,315.9 L501.8,314.9 L504.1,314.9 L504.2,313.9 L502.3,313.5 L503.0,312.7 L503.2,311.5 L506.6,312.4 L506.9,311.1 L503.9,310.2 L504.7,309.3 L504.9,308.2 L507.0,307.8 L507.2,306.8 L505.5,306.8 L505.9,305.9 L506.5,304.8 L509.0,307.1 L509.3,305.8 L507.2,303.5 L507.5,302.2 L508.0,301.4 L509.8,300.9 L510.0,299.7 L508.5,299.9 L508.7,299.0Z"/>
<path d="M582.6,164.2 L583.2,162.9 L585.6,164.9 L585.8,163.6 L583.8,161.5 L584.0,160.8 L584.7,159.4 L588.3,162.2 L588.3,161.0 L585.3,157.9 L585.8,157.2 L587.1,153.4 L588.5,150.4 L590.7,146.8 L593.3,146.1 L596.0,144.9 L599.3,143.7 L600.9,143.2 L601.5,147.5 L602.3,147.0 L602.7,143.0 L604.3,142.8 L605.5,142.8 L604.4,145.1 L605.5,144.8 L607.3,142.6 L608.5,142.8 L609.9,143.0 L607.7,144.3 L608.9,144.6 L611.4,143.6 L612.2,144.4 L616.5,145.7 L617.3,146.3 L614.4,149.4 L615.3,149.5 L618.5,147.1 L619.5,148.1 L622.4,149.8 L623.2,151.2 L621.5,152.5 L622.2,153.2 L624.1,152.7 L624.6,154.1 L627.1,157.6 L629.4,160.9 L630.1,161.8 L626.5,163.8 L627.4,164.3 L631.0,163.1 L631.6,163.9 L632.2,165.1 L630.4,166.5 L631.0,167.3 L632.8,166.7 L633.5,167.9 L634.9,171.2 L635.2,175.4 L636.3,179.6 L636.3,180.7 L632.4,180.4 L632.8,181.4 L636.3,182.6 L636.4,184.0 L634.5,183.7 L635.4,179.9 L634.0,180.0 L632.0,183.3 L630.2,182.9 L624.0,182.3 L622.9,182.0 L625.1,179.4 L624.1,179.5 L621.3,181.6 L620.0,181.3 L619.1,180.8 L620.4,178.2 L619.1,178.1 L617.5,180.4 L616.3,179.8 L615.2,179.8 L616.5,176.0 L615.5,176.2 L613.7,179.5 L612.3,178.9 L608.3,178.3 L607.5,178.2 L607.2,175.4 L606.4,175.4 L606.0,177.7 L605.2,177.3 L603.7,177.0 L603.5,173.6 L602.6,173.7 L602.2,176.5 L601.0,176.0 L594.8,178.1 L593.8,177.5 L593.9,172.8 L592.6,172.9 L592.3,177.0 L590.8,176.5 L590.0,176.3 L590.6,173.1 L589.7,173.2 L588.5,175.8 L587.0,175.5 L583.8,173.8 L583.2,173.0 L584.4,170.6 L583.3,170.2 L581.9,172.2 L580.7,171.7 L581.9,167.3Z"/>
<path d="M775.8,470.0 L775.0,468.9 L777.7,469.0 L777.2,468.3 L774.5,467.6 L774.1,466.5 L772.8,463.4 L772.1,462.2 L775.2,461.2 L774.3,460.8 L771.1,461.2 L770.1,460.8 L769.6,459.7 L770.7,457.1 L769.5,456.3 L768.6,458.7 L767.7,458.2 L767.1,457.2 L768.5,454.4 L767.5,453.9 L766.1,456.2 L765.4,455.6 L764.5,454.6 L767.4,453.1 L766.5,452.6 L763.5,453.6 L762.6,452.7 L760.2,450.7 L759.5,449.6 L762.0,449.3 L761.1,448.6 L758.5,448.6 L758.2,447.9 L755.9,444.2 L755.6,443.6 L758.5,441.5 L757.6,440.4 L755.0,442.2 L754.7,441.0 L754.0,440.2 L756.9,440.0 L756.2,439.1 L753.3,438.9 L752.8,437.7 L751.2,433.8 L751.2,432.1 L754.6,431.4 L754.1,430.7 L750.7,430.3 L750.4,429.2 L749.9,430.0 L747.4,429.5 L747.3,430.5 L749.4,431.2 L748.9,432.4 L748.7,433.2 L745.7,431.8 L745.6,433.1 L748.2,434.4 L747.8,435.2 L747.0,436.5 L744.9,435.0 L744.4,436.2 L746.0,438.0 L745.4,439.3 L744.5,440.3 L741.1,439.5 L740.8,440.5 L743.5,441.8 L743.1,442.9 L741.7,443.6 L740.3,442.7 L739.4,443.5 L740.2,444.6 L739.2,445.3 L737.9,446.1 L736.8,445.1 L735.9,445.9 L736.4,447.1 L735.7,448.1 L734.4,447.5 L737.0,444.8 L735.6,444.6 L733.1,447.0 L732.2,446.6 L731.2,446.3 L732.0,444.2 L730.7,443.9 L729.9,445.8 L729.2,445.7 L728.2,444.3 L729.8,443.3 L728.9,442.3 L727.2,442.8 L726.4,441.7 L725.8,440.5 L728.4,440.5 L727.6,439.6 L724.8,439.0 L723.8,438.3 L723.8,436.9 L726.6,435.9 L725.9,434.7 L723.4,435.6 L723.4,434.9 L722.5,431.4 L721.5,427.8 L721.2,426.9 L723.5,426.3 L722.9,425.0 L720.9,425.6 L720.5,424.9 L719.7,421.4 L719.3,418.1 L719.1,416.9 L721.3,417.5 L721.2,416.5 L719.3,415.5 L719.4,414.8 L719.6,411.3 L719.9,410.2 L721.5,411.1 L721.4,410.2 L720.1,408.8 L719.9,407.9 L720.8,407.1 L723.4,407.5 L723.9,406.5 L721.7,406.1 L722.1,405.2 L722.9,404.6 L724.0,406.1 L724.7,405.0 L723.8,403.6 L724.5,402.5 L725.0,402.1 L726.3,404.7 L726.8,403.8 L725.9,401.1 L726.7,400.5 L730.1,398.1 L731.4,397.1 L732.4,399.8 L733.1,399.0 L732.9,396.1 L733.7,395.0 L736.2,392.9 L737.2,392.1 L738.7,393.7 L739.5,392.6 L738.2,391.1 L739.1,390.3 L739.2,389.2 L741.6,391.0 L741.5,390.0 L739.5,387.6 L740.0,386.7 L739.8,385.4 L743.4,385.4 L743.3,384.1 L740.1,383.8 L740.6,382.4 L740.9,381.6 L743.2,383.8 L743.5,382.6 L741.6,380.1 L741.8,378.6 L742.7,377.8 L745.8,378.4 L746.0,377.3 L743.4,376.3 L744.1,375.1 L744.2,374.2 L746.0,374.9 L746.1,373.5 L744.6,372.9 L744.9,371.8 L745.1,370.9 L747.9,370.8 L747.9,369.7 L745.4,369.5 L745.7,368.4 L746.8,365.3 L746.9,364.2 L749.1,364.5 L749.2,363.6 L747.4,362.8 L748.1,361.5 L749.2,358.5 L749.4,357.4 L752.6,358.6 L752.7,357.2 L749.9,356.0 L750.7,354.7 L749.1,352.2 L748.7,351.0 L751.7,349.9 L750.9,348.8 L748.2,349.8 L747.7,348.6 L748.3,348.0 L751.1,350.0 L751.3,349.0 L749.0,346.8 L749.6,345.9 L750.0,345.0 L751.5,347.0 L752.0,345.7 L750.6,343.9 L751.3,343.1 L751.6,342.1 L753.3,343.3 L753.8,342.0 L752.3,340.9 L752.7,340.1 L753.3,339.1 L755.9,338.9 L756.2,338.0 L754.0,338.0 L754.3,337.1 L756.5,334.1 L757.8,331.2 L758.5,330.3 L759.8,331.6 L760.2,330.6 L759.5,328.7 L760.4,327.9 L763.2,324.0 L763.3,322.9 L766.7,323.4 L766.9,322.4 L764.0,321.7 L764.5,320.5 L766.6,318.3 L766.7,317.1 L769.5,317.6 L769.8,316.7 L767.4,315.9 L768.2,314.9 L770.3,313.0 L772.6,311.1 L773.6,310.2 L775.0,312.7 L775.7,311.8 L774.6,309.4 L775.1,309.0 L778.9,307.6 L782.8,306.1 L783.9,306.7 L784.2,309.4 L785.6,309.6 L785.2,307.2 L786.2,307.7 L787.2,307.9 L787.4,310.2 L788.8,310.5 L788.6,308.4 L789.7,308.6 L790.6,309.1 L788.7,310.4 L789.8,310.7 L791.9,309.6 L793.1,309.9 L793.9,309.9 L795.4,313.0 L796.4,312.6 L795.3,309.7 L795.9,309.5 L797.3,309.5 L798.4,311.0 L799.2,310.7 L798.6,309.3 L800.0,309.4 L800.6,309.1 L800.6,312.5 L801.5,312.1 L802.0,308.9 L803.4,308.5 L804.2,308.7 L804.3,311.0 L805.4,310.6 L805.9,308.5 L807.0,308.2 L811.1,308.2 L812.6,307.8 L814.0,311.0 L814.8,310.6 L814.2,307.6 L815.7,307.2 L819.4,307.7 L820.4,307.5 L821.3,309.3 L822.2,309.1 L821.9,307.5 L823.1,307.2 L824.2,307.5 L824.4,311.0 L825.6,310.7 L825.7,307.5 L827.0,307.2 L827.9,308.2 L827.4,311.2 L828.5,311.6 L829.4,309.2 L830.9,309.7 L831.7,310.8 L830.2,313.0 L831.5,313.5 L833.2,311.8 L834.3,312.9 L834.9,313.6 L833.1,313.3 L833.7,314.2 L835.6,315.1 L836.2,316.0 L836.7,317.4 L834.4,317.3 L835.1,318.2 L837.4,318.9 L838.1,320.0 L838.4,321.1 L836.9,322.4 L837.5,323.6 L838.9,322.7 L839.4,324.2 L839.6,324.9 L837.2,326.9 L837.7,327.7 L840.1,326.5 L840.5,327.6"/>
<path d="M489.6,252.0 L491.0,251.1 L490.2,246.5 L491.3,246.5 L492.2,250.5 L493.2,250.0 L494.1,249.6 L493.3,245.6 L494.3,245.6 L495.4,249.0 L496.4,248.6 L497.3,248.0 L496.1,246.3 L497.2,246.0 L498.6,247.4 L499.9,247.2 L500.5,246.5 L500.5,243.6 L501.5,243.4 L501.7,245.9 L502.6,245.1 L503.3,244.6 L500.6,241.7 L501.7,240.9 L504.1,243.6 L504.9,243.0 L505.3,242.1 L502.8,238.2 L503.9,237.5 L506.1,241.1 L507.1,240.7 L508.9,238.1 L509.3,237.1 L508.2,235.0 L509.1,234.3 L510.1,236.1 L510.8,235.6 L511.3,234.6 L509.4,232.9 L510.5,232.0 L512.1,233.6 L513.0,233.2 L514.9,230.3 L515.3,229.6 L511.1,227.9 L512.3,227.1 L516.1,228.6 L516.8,227.6 L517.3,227.1 L513.6,225.7 L514.5,225.1 L518.1,226.1 L518.4,225.0 L519.3,224.6 L515.6,223.4 L516.8,222.6 L520.1,223.6 L520.8,222.6 L522.4,220.1 L523.1,219.4 L519.5,217.3 L520.1,216.7 L523.6,218.1 L524.3,216.9 L524.3,216.2 L520.7,216.2 L521.4,215.3 L524.8,215.0 L525.0,214.0 L525.6,213.1 L522.7,212.5 L523.4,211.5 L526.1,211.9 L526.6,210.9 L526.8,210.0 L524.3,209.3 L524.9,208.6 L527.3,208.7 L527.7,207.8 L528.3,206.9 L526.1,205.3 L526.9,204.5 L529.0,205.6 L529.7,204.5 L531.2,201.8 L532.1,200.6 L529.7,199.7 L530.6,198.6 L532.8,199.3 L533.6,198.7 L535.3,195.4 L535.8,194.2 L531.9,193.1 L532.7,192.3 L536.5,192.9 L537.1,191.9 L537.5,190.9 L534.9,190.0 L535.8,188.8 L538.1,189.5 L538.3,188.1 L539.1,187.5 L537.0,187.3 L537.6,186.5 L539.8,186.2 L539.9,185.1 L543.1,182.3 L545.6,180.5 L546.0,179.4 L543.5,178.3 L544.5,177.6 L547.0,178.4 L547.8,177.7"/>
<circle cx="757.0" cy="190.0" r="1.2"/>
<circle cx="761.0" cy="196.0" r="1.5"/>
<circle cx="766.0" cy="192.0" r="1.2"/>
<circle cx="763.0" cy="203.0" r="1.6"/>
<circle cx="769.0" cy="199.0" r="1.3"/>
<circle cx="758.0" cy="208.0" r="1.4"/>
<circle cx="765.0" cy="210.0" r="1.2"/>
<circle cx="771.0" cy="206.0" r="1.0"/>
<circle cx="905.0" cy="604.0" r="0.9"/>
<circle cx="912.0" cy="610.0" r="0.8"/>
<circle cx="918.0" cy="618.0" r="0.9"/>
<circle cx="924.0" cy="624.0" r="0.8"/>
<circle cx="908.0" cy="626.0" r="0.8"/>
<circle cx="915.0" cy="630.0" r="0.7"/>
<circle cx="931.0" cy="606.0" r="1.0"/>
<circle cx="923.0" cy="600.0" r="0.9"/>
<circle cx="420.0" cy="180.0" r="1.5"/>
<circle cx="427.0" cy="190.0" r="1.8"/>
<circle cx="444.0" cy="187.0" r="1.2"/>
<circle cx="336.0" cy="160.0" r="1.3"/>
<circle cx="316.0" cy="162.0" r="1.6"/>
<circle cx="362.0" cy="235.0" r="1.2"/>
<circle cx="349.0" cy="262.0" r="1.4"/>
</g>
<g fill="none" stroke="#000" stroke-width="1.15" stroke-linejoin="round" stroke-linecap="butt">
<path d="M75.6,121.5 C75.8,124.6 76.9,133.6 77.0,140.0 C77.1,146.4 76.7,151.7 76.4,160.0 C76.1,168.3 74.7,180.8 75.0,190.0 C75.3,199.2 77.7,207.9 78.0,215.0 C78.3,222.1 77.6,226.1 77.0,232.8 C76.4,239.5 75.3,248.3 74.6,255.4 C73.9,262.5 73.4,268.8 72.6,275.4 C71.8,282.0 70.4,289.6 70.0,295.0 C69.6,300.4 69.3,302.5 70.0,307.5 C70.7,312.5 72.4,318.8 73.9,325.0 C75.4,331.2 77.6,338.3 78.9,345.0 C80.2,351.7 81.4,359.2 82.0,365.0 C82.6,370.8 81.8,375.4 82.7,380.0 C83.7,384.6 85.6,388.2 87.7,392.8 C89.8,397.4 92.3,402.4 95.2,407.8 C98.1,413.2 101.9,420.0 105.2,425.4 C108.5,430.8 112.0,435.4 115.3,440.4 C118.6,445.4 122.0,450.6 125.3,455.4 C128.6,460.2 132.8,465.7 135.3,469.0 C137.8,472.3 137.8,471.5 140.3,475.0 C142.8,478.5 146.2,484.6 150.4,490.0 C154.6,495.4 161.6,501.8 165.4,507.6 C169.2,513.4 170.1,519.6 173.0,525.0 C175.9,530.4 179.2,534.1 183.0,540.0 C186.8,545.9 191.3,553.5 195.5,560.2 C199.7,566.9 204.2,574.0 208.0,580.3 C211.8,586.6 215.0,590.8 218.0,597.8 C221.0,604.8 223.7,616.5 226.0,622.4 C228.3,628.3 230.5,628.7 231.8,633.0 C233.1,637.3 233.4,643.2 233.6,648.3 C233.8,653.4 233.2,658.4 233.0,663.4 C232.8,668.4 232.2,673.8 232.6,678.4 C233.0,683.0 234.5,687.1 235.6,690.9 C236.7,694.7 238.4,698.6 239.4,701.0 C240.4,703.4 241.1,704.8 241.4,705.5"/>
<path d="M30.5,515.0 C32.1,517.1 36.8,523.0 40.0,527.6 C43.2,532.2 47.1,537.7 50.0,542.7 C52.9,547.7 55.3,551.9 57.6,557.7 C59.9,563.6 62.0,571.1 63.9,577.8 C65.8,584.5 67.7,591.1 68.9,597.8 C70.2,604.5 70.9,611.2 71.4,617.9 C71.9,624.6 72.0,632.6 72.0,638.0 C72.0,643.4 71.9,646.2 71.4,650.0 C70.9,653.8 70.2,656.9 68.9,660.8 C67.7,664.7 65.8,670.0 63.9,673.4 C62.0,676.8 59.9,678.8 57.6,680.9 C55.3,683.0 52.1,685.1 50.0,685.9 C47.9,686.7 46.5,686.1 45.0,685.9 C43.5,685.7 43.7,684.8 41.3,684.6 C38.9,684.5 32.3,684.9 30.5,685.0"/>
<path d="M165.4,121.5 C166.0,125.4 167.9,137.8 169.0,145.0 C170.1,152.2 171.0,157.5 171.7,165.0 C172.4,172.5 172.8,181.7 173.4,190.0 C174.0,198.3 174.6,206.7 175.4,215.0 C176.2,223.3 177.5,232.5 178.4,240.0 C179.3,247.5 180.2,253.7 181.0,260.0 C181.8,266.3 182.2,272.2 183.0,278.0 C183.8,283.8 183.8,288.0 185.5,295.0 C187.2,302.0 190.5,311.7 193.0,320.0 C195.5,328.3 198.0,336.7 200.5,345.0 C203.0,353.3 205.1,361.6 208.0,370.0 C210.9,378.4 214.7,387.3 218.0,395.3 C221.3,403.3 224.7,410.3 228.0,417.8 C231.3,425.3 235.1,433.7 238.0,440.4 C240.9,447.1 242.9,452.2 245.6,458.0 C248.3,463.8 251.6,470.5 254.4,475.0 C257.2,479.5 259.2,481.0 262.7,485.0 C266.2,489.0 271.0,494.6 275.2,498.8 C279.4,503.0 283.5,506.5 287.7,510.0 C291.9,513.5 295.7,516.9 300.3,520.0 C304.9,523.1 310.3,526.4 315.3,528.9 C320.3,531.4 325.4,533.4 330.4,535.2 C335.4,537.0 338.7,537.9 345.4,539.7 C352.1,541.5 363.0,544.2 370.5,546.0 C378.0,547.8 383.8,549.1 390.5,550.2 C397.2,551.3 403.9,551.8 410.6,552.7 C417.3,553.6 423.9,554.9 430.6,555.7 C437.3,556.5 444.1,557.0 450.7,557.7 C457.3,558.5 463.0,559.7 470.0,560.2 C477.0,560.8 485.5,560.7 492.6,561.0 C499.7,561.3 506.0,561.7 512.7,562.0 C519.4,562.3 526.5,562.1 532.8,562.7 C539.1,563.3 544.4,564.2 550.3,565.7 C556.1,567.2 562.9,569.3 567.9,571.5 C572.9,573.7 576.6,576.3 580.4,579.0 C584.1,581.7 587.5,584.7 590.4,587.8 C593.3,590.9 595.9,594.5 598.0,597.8 C600.1,601.1 601.7,604.4 603.0,607.8 C604.3,611.1 605.2,614.5 606.0,617.9 C606.8,621.2 607.4,624.5 607.5,627.9 C607.6,631.2 607.2,634.2 606.7,638.0 C606.2,641.8 605.1,647.1 604.2,650.5 C603.3,653.9 602.5,654.5 601.4,658.3 C600.3,662.1 598.8,668.4 597.7,673.4 C596.6,678.4 595.3,684.2 595.0,688.4 C594.7,692.6 595.4,695.6 595.7,698.5 C596.0,701.4 596.8,704.3 597.0,705.5"/>
<path d="M225.3,121.5 C226.1,124.6 228.6,133.6 230.3,140.0 C232.0,146.4 233.6,153.3 235.3,160.0 C237.0,166.7 238.8,173.3 240.3,180.0 C241.8,186.7 242.9,193.3 244.2,200.0 C245.4,206.7 246.8,213.7 247.8,220.0 C248.8,226.3 249.4,231.9 250.3,237.8 C251.2,243.7 252.1,250.0 253.0,255.4 C253.9,260.8 254.8,265.4 255.6,270.4 C256.4,275.4 257.4,281.4 258.0,285.5 C258.6,289.6 258.2,290.1 259.0,295.0 C259.8,299.9 261.0,307.9 262.7,315.0 C264.4,322.1 266.9,330.5 269.0,337.6 C271.1,344.7 272.9,351.0 275.2,357.7 C277.5,364.4 280.2,371.0 282.7,377.7 C285.2,384.4 287.9,391.5 290.2,397.8 C292.5,404.1 294.0,409.0 296.5,415.3 C299.0,421.6 302.2,429.1 305.3,435.4 C308.4,441.7 312.0,447.6 315.3,453.0 C318.6,458.4 322.6,464.3 325.3,468.0 C328.0,471.7 328.7,472.2 331.6,475.0 C334.5,477.8 338.5,481.9 342.9,485.0 C347.3,488.1 352.5,491.3 357.9,493.8 C363.3,496.3 369.2,497.9 375.5,500.0 C381.8,502.1 388.8,504.6 395.5,506.3 C402.2,508.0 408.9,508.9 415.6,510.0 C422.3,511.1 428.9,511.9 435.6,512.6 C442.3,513.3 449.5,513.7 455.7,514.0 C461.9,514.3 466.5,514.6 472.6,514.6 C478.8,514.6 485.5,514.2 492.6,513.9 C499.7,513.6 507.3,513.0 515.2,512.6 C523.2,512.2 530.8,511.9 540.3,511.4 C549.8,510.9 563.6,509.8 572.4,509.6 C581.2,509.4 586.2,509.5 593.0,510.0 C599.8,510.5 606.8,511.5 613.0,512.6 C619.2,513.7 625.1,514.9 630.5,516.4 C635.9,517.9 641.0,519.5 645.6,521.4 C650.2,523.3 653.8,525.3 658.0,527.6 C662.2,529.9 666.8,532.7 670.6,535.2 C674.4,537.7 677.8,540.2 680.7,542.7 C683.6,545.2 686.3,546.9 688.2,550.2 C690.1,553.5 691.0,558.5 692.0,562.7 C693.0,566.9 693.6,571.1 694.4,575.3 C695.2,579.5 696.4,584.0 697.0,587.8 C697.6,591.6 697.0,594.8 698.2,598.0 C699.4,601.2 702.6,604.7 704.2,607.0 C705.8,609.3 708.0,609.7 708.0,612.0 C708.0,614.3 705.0,617.2 704.2,620.7 C703.4,624.2 703.6,629.1 703.0,633.3 C702.4,637.5 701.2,641.6 700.4,645.8 C699.6,650.0 698.7,654.1 698.0,658.3 C697.3,662.5 696.4,666.7 696.0,670.9 C695.6,675.1 694.9,679.6 695.4,683.4 C695.9,687.1 698.2,690.5 699.2,693.4 C700.2,696.3 701.1,699.0 701.7,701.0 C702.3,703.0 702.8,704.8 703.0,705.5"/>
<path d="M273.2,121.5 C273.5,124.2 274.5,132.4 275.2,137.6 C275.9,142.8 276.4,146.8 277.2,152.6 C278.0,158.4 279.1,166.0 280.2,172.7 C281.3,179.4 282.8,186.0 284.0,192.7 C285.2,199.4 286.4,206.1 287.7,212.8 C288.9,219.5 290.2,226.5 291.5,232.8 C292.8,239.1 294.1,244.5 295.3,250.4 C296.6,256.3 297.8,262.1 299.0,268.0 C300.2,273.9 301.8,281.0 302.8,285.5 C303.9,290.0 304.1,290.1 305.3,295.0 C306.6,299.9 308.6,307.9 310.3,315.0 C312.0,322.1 313.4,330.1 315.3,337.6 C317.2,345.1 319.5,352.9 321.6,360.0 C323.7,367.1 325.6,373.3 327.9,380.0 C330.2,386.7 332.7,393.6 335.4,400.3 C338.1,407.0 340.7,413.7 344.0,420.4 C347.3,427.1 351.4,434.1 355.4,440.4 C359.4,446.7 363.8,453.0 368.0,458.0 C372.2,463.0 377.2,467.7 380.5,470.5 C383.8,473.3 384.7,473.4 388.0,475.0 C391.3,476.6 395.9,478.4 400.5,480.0 C405.1,481.6 410.2,483.2 415.6,484.5 C421.0,485.8 427.1,486.7 433.0,487.5 C438.9,488.3 444.1,488.9 450.7,489.3 C457.3,489.7 464.4,490.1 472.6,490.0 C480.8,489.9 491.6,489.6 500.0,488.8 C508.4,488.0 515.2,486.1 522.7,485.0 C530.2,483.9 537.3,482.9 545.3,482.0 C553.2,481.1 562.0,480.2 570.4,479.5 C578.8,478.8 587.0,478.0 595.4,477.5 C603.8,477.0 613.1,476.9 620.5,476.3 C627.9,475.7 634.2,474.9 640.0,473.8 C645.8,472.8 650.0,470.8 655.0,470.0 C660.0,469.2 665.0,468.9 670.0,468.8 C675.0,468.7 680.0,468.8 685.0,469.6 C690.0,470.4 695.4,471.8 700.0,473.8 C704.6,475.8 708.9,478.5 712.7,481.4 C716.5,484.3 720.0,487.8 722.7,491.4 C725.4,494.9 727.1,498.9 729.0,502.7 C730.9,506.5 732.1,510.2 734.0,514.0 C735.9,517.8 738.2,521.7 740.3,525.2 C742.4,528.8 744.4,532.6 746.5,535.3 C748.6,538.0 750.3,539.8 752.8,541.5 C755.3,543.2 758.7,546.0 761.6,545.8 C764.5,545.6 767.7,542.9 770.4,540.3 C773.1,537.7 775.6,533.6 777.9,530.2 C780.2,526.9 781.9,524.0 784.0,520.2 C786.1,516.5 788.3,511.9 790.4,507.7 C792.5,503.5 794.6,499.2 796.7,495.0 C798.8,490.8 801.1,486.8 803.0,482.6 C804.9,478.4 806.7,474.3 808.0,470.0 C809.3,465.7 810.0,460.3 811.0,457.0 C812.0,453.7 812.3,454.0 813.8,450.4 C815.3,446.8 817.3,440.4 820.0,435.4 C822.7,430.4 826.2,425.0 830.0,420.4 C833.8,415.8 838.0,412.0 842.6,407.8 C847.2,403.6 852.6,399.5 857.6,395.3 C862.6,391.1 868.1,386.5 872.7,382.7 C877.3,378.9 880.7,376.5 885.2,372.7 C889.7,368.9 895.3,362.6 899.5,359.7 C903.7,356.8 907.2,356.4 910.3,355.0 C913.3,353.6 915.7,353.5 917.8,351.4 C919.9,349.3 920.3,345.3 922.8,342.6 C925.3,339.9 928.6,337.5 932.8,335.0 C937.0,332.5 942.5,330.1 947.9,327.6 C953.3,325.1 960.0,321.9 965.4,320.0 C970.8,318.1 976.3,318.2 980.5,316.3 C984.7,314.4 986.3,311.3 990.5,308.8 C994.7,306.3 1000.5,303.6 1005.5,301.3 C1010.5,299.0 1016.4,297.6 1020.6,295.0 C1024.8,292.4 1027.7,288.8 1030.6,285.5 C1033.5,282.2 1035.5,278.3 1038.0,275.4 C1040.5,272.5 1043.8,269.8 1045.7,268.0 C1047.6,266.2 1048.9,265.2 1049.5,264.7"/>
<path d="M304.0,121.5 C304.1,124.6 304.6,135.0 304.8,140.0 C305.0,145.0 304.8,146.4 305.3,151.4 C305.8,156.4 306.8,163.6 307.8,170.0 C308.9,176.4 310.4,183.3 311.6,190.0 C312.9,196.7 314.1,203.3 315.3,210.0 C316.5,216.7 317.8,223.3 319.0,230.0 C320.2,236.7 321.5,244.1 322.8,250.4 C324.1,256.7 325.3,262.1 326.6,268.0 C327.9,273.9 329.2,281.0 330.4,285.5 C331.6,290.0 332.3,290.9 334.0,295.0 C335.7,299.1 338.3,304.2 340.4,310.0 C342.5,315.8 344.8,323.3 346.7,330.0 C348.6,336.7 349.8,343.3 351.7,350.0 C353.6,356.7 355.9,363.7 358.0,370.0 C360.1,376.3 362.1,382.3 364.2,387.8 C366.3,393.3 367.8,397.4 370.5,402.8 C373.2,408.2 376.8,414.5 380.5,420.4 C384.2,426.2 388.8,432.9 393.0,437.9 C397.2,442.9 401.0,446.8 405.6,450.4 C410.2,453.9 415.2,456.9 420.6,459.2 C426.0,461.5 432.3,463.1 438.0,464.2 C443.7,465.3 449.2,465.5 455.0,465.8 C460.8,466.1 466.8,466.3 472.6,466.2 C478.4,466.1 483.8,465.6 490.0,465.0 C496.2,464.4 503.3,463.5 510.0,462.5 C516.7,461.5 523.5,460.2 530.2,459.2 C536.9,458.1 543.3,457.3 550.3,456.2 C557.3,455.1 565.3,453.8 572.0,452.4 C578.7,451.0 584.8,449.6 590.4,448.0 C596.0,446.4 600.9,445.1 605.5,443.0 C610.1,440.9 614.2,438.1 618.0,435.4 C621.8,432.7 625.1,429.5 628.0,426.6 C630.9,423.7 633.4,420.4 635.5,417.8 C637.6,415.2 638.4,413.1 640.5,410.8 C642.6,408.5 644.6,406.1 648.0,404.0 C651.4,401.9 656.0,400.1 660.6,398.5 C665.2,396.9 670.6,395.7 675.6,394.5 C680.6,393.3 685.8,392.3 690.7,391.5 C695.6,390.7 700.5,390.2 705.0,389.8 C709.5,389.4 713.1,388.6 717.7,389.0 C722.3,389.4 728.2,391.5 732.8,392.3 C737.4,393.1 741.1,393.9 745.3,394.0 C749.5,394.1 753.2,393.6 757.8,392.8 C762.4,392.0 768.3,390.9 772.9,389.0 C777.5,387.1 781.2,384.2 785.4,381.5 C789.6,378.8 793.8,375.8 798.0,372.7 C802.2,369.6 806.8,365.8 810.5,362.7 C814.2,359.6 817.2,357.1 820.5,354.0 C823.8,350.9 827.2,347.2 830.5,343.9 C833.8,340.5 837.1,337.4 840.5,333.9 C843.9,330.3 847.2,326.4 850.6,322.6 C854.0,318.8 857.7,314.7 860.6,311.3 C863.5,307.9 865.1,305.2 868.0,302.5 C870.9,299.8 874.0,297.8 877.7,295.0 C881.4,292.2 886.0,288.8 890.2,285.5 C894.4,282.2 899.0,277.9 902.8,275.4 C906.6,272.9 908.5,272.6 912.8,270.4 C917.1,268.2 923.2,265.3 928.6,262.2 C934.0,259.1 940.1,255.0 945.4,251.6 C950.7,248.2 955.8,244.9 960.4,241.6 C965.0,238.3 968.8,235.6 973.0,231.6 C977.2,227.6 981.8,222.2 985.5,217.8 C989.2,213.4 992.2,209.5 995.5,205.3 C998.8,201.1 1001.8,196.7 1005.5,192.7 C1009.2,188.7 1013.8,184.9 1018.0,181.4 C1022.2,177.9 1027.3,174.3 1030.6,171.4 C1033.9,168.5 1037.0,166.2 1038.0,163.9 C1039.0,161.6 1036.5,159.3 1036.9,157.6 C1037.3,155.9 1038.5,154.8 1040.6,153.9 C1042.7,153.0 1048.0,152.3 1049.5,152.0"/>
<path d="M341.6,121.5 C340.8,123.3 337.9,129.0 336.6,132.5 C335.3,136.0 334.5,139.4 334.0,142.6 C333.5,145.8 333.9,147.7 333.6,151.4 C333.3,155.1 332.5,160.2 332.4,165.0 C332.3,169.8 332.4,174.6 332.9,180.0 C333.4,185.4 334.4,191.8 335.4,197.7 C336.4,203.6 337.8,209.5 339.0,215.3 C340.2,221.2 341.4,227.0 342.9,232.8 C344.4,238.7 346.2,244.5 347.9,250.4 C349.6,256.3 351.4,262.6 352.9,268.0 C354.4,273.4 355.3,278.5 356.7,283.0 C358.1,287.5 359.2,290.5 361.5,295.0 C363.8,299.5 367.8,304.6 370.5,310.0 C373.2,315.4 375.5,322.2 378.0,327.6 C380.5,333.0 383.0,338.0 385.5,342.6 C388.0,347.2 390.1,351.2 393.0,355.0 C395.9,358.8 399.2,361.8 403.0,365.2 C406.8,368.6 411.0,372.3 415.6,375.2 C420.2,378.1 426.2,380.8 430.6,382.7 C435.0,384.6 438.4,385.4 442.0,386.5 C445.6,387.6 448.7,388.9 452.5,389.5 C456.3,390.1 460.8,389.6 465.0,390.3 C469.2,391.1 473.4,393.0 477.6,394.0 C481.8,395.0 486.3,396.5 490.0,396.5 C493.7,396.5 497.3,395.7 500.0,394.0 C502.7,392.3 504.9,389.2 506.4,386.5 C507.9,383.8 509.2,380.4 509.0,377.7 C508.8,374.9 505.2,372.9 505.0,370.0 C504.8,367.1 506.4,363.7 507.7,360.0 C509.0,356.3 511.0,351.8 512.7,347.6 C514.4,343.4 515.6,339.6 517.7,335.0 C519.8,330.4 522.3,324.6 525.2,320.0 C528.1,315.4 531.9,311.0 535.3,307.5 C538.6,304.0 542.4,300.9 545.3,298.8 C548.2,296.7 549.5,296.8 552.8,295.0 C556.1,293.2 560.7,290.0 565.3,288.0 C569.9,286.0 575.4,284.3 580.4,283.0 C585.4,281.7 589.5,280.8 595.4,280.0 C601.2,279.2 609.6,278.2 615.5,278.0 C621.4,277.8 625.9,277.8 630.5,279.0 C635.1,280.2 639.2,283.4 643.0,285.5 C646.8,287.6 650.2,289.8 653.0,291.8 C655.8,293.8 656.7,294.9 660.0,297.5 C663.3,300.1 668.0,304.3 672.6,307.5 C677.2,310.7 682.6,314.1 687.6,316.5 C692.6,318.9 697.7,321.0 702.7,321.8 C707.7,322.6 712.7,321.8 717.7,321.3 C722.7,320.8 727.8,319.9 732.8,318.8 C737.8,317.8 743.2,316.7 747.8,315.0 C752.4,313.3 757.2,311.1 760.3,308.8 C763.4,306.5 764.1,303.8 766.6,301.3 C769.1,298.8 772.3,296.6 775.4,294.0 C778.5,291.4 781.6,288.6 785.3,285.5 C789.0,282.4 793.2,279.0 797.8,275.4 C802.4,271.8 807.9,267.3 812.9,264.0 C817.9,260.7 823.3,257.5 827.9,255.4 C832.5,253.3 836.2,253.5 840.4,251.6 C844.6,249.7 848.8,246.9 853.0,244.0 C857.2,241.1 861.3,237.3 865.5,234.0 C869.7,230.7 873.8,227.1 878.0,224.0 C882.2,220.9 886.0,218.2 890.6,215.3 C895.2,212.4 900.6,209.8 905.6,206.5 C910.6,203.2 915.7,198.9 920.7,195.2 C925.7,191.4 931.2,187.1 935.7,184.0 C940.2,180.9 943.4,180.0 947.9,176.4 C952.4,172.8 958.3,167.2 962.9,162.6 C967.5,158.0 971.3,153.6 975.5,148.8 C979.7,144.0 984.0,138.4 988.0,133.8 C992.0,129.2 997.4,123.5 999.3,121.5"/>
<path d="M613.0,121.5 C611.3,121.9 606.8,123.0 603.0,123.8 C599.2,124.6 594.9,125.8 590.4,126.3 C585.9,126.8 580.2,126.8 576.0,127.0 C571.8,127.2 571.2,127.4 565.3,127.5 C559.3,127.6 548.6,127.7 540.3,127.5 C531.9,127.3 523.6,126.5 515.2,126.3 C506.8,126.1 498.4,126.1 490.0,126.3 C481.6,126.5 471.6,127.1 465.0,127.5 C458.4,127.9 456.4,128.2 450.7,128.8 C445.0,129.4 436.9,130.5 430.6,131.3 C424.3,132.1 418.0,133.0 413.0,133.8 C408.0,134.6 404.8,135.1 400.6,136.3 C396.4,137.6 391.6,139.0 388.0,141.3 C384.4,143.6 381.5,146.4 379.0,150.0 C376.5,153.6 374.5,158.0 373.0,162.6 C371.5,167.2 370.8,172.3 370.0,177.7 C369.2,183.1 368.7,189.2 368.5,195.0 C368.3,200.8 368.5,207.3 369.0,212.8 C369.5,218.3 370.6,222.8 371.7,227.8 C372.8,232.8 374.0,237.9 375.5,242.9 C377.0,247.9 378.6,253.4 380.5,258.0 C382.4,262.6 384.5,266.6 386.8,270.4 C389.1,274.1 391.6,277.4 394.3,280.5 C397.0,283.6 400.3,286.6 403.0,289.0 C405.7,291.4 408.1,293.2 410.6,295.0 C413.1,296.8 414.7,298.4 418.0,299.5 C421.3,300.6 426.4,301.4 430.6,301.3 C434.8,301.2 438.9,300.0 443.0,298.8 C447.1,297.6 450.1,296.6 455.0,294.0 C459.9,291.4 466.8,287.3 472.6,283.0 C478.4,278.7 484.6,273.0 490.0,268.0 C495.4,263.0 500.0,257.8 505.0,253.0 C510.0,248.2 515.0,243.4 520.0,239.0 C525.0,234.6 530.2,230.1 535.3,226.6 C540.3,223.1 544.9,219.9 550.3,217.8 C555.7,215.7 562.0,214.6 567.9,214.0 C573.8,213.4 579.5,214.4 585.4,214.0 C591.2,213.6 597.1,212.2 603.0,211.5 C608.9,210.8 615.5,209.8 620.5,209.8 C625.5,209.8 628.8,210.2 633.0,211.5 C637.2,212.8 641.4,215.3 645.6,217.8 C649.8,220.3 654.3,224.1 658.0,226.6 C661.7,229.1 664.2,230.7 668.0,232.8 C671.8,234.9 677.0,237.4 680.7,239.0 C684.4,240.6 686.4,241.6 690.0,242.2 C693.6,242.8 698.4,243.4 702.6,242.7 C706.8,242.0 710.8,240.1 715.0,237.8 C719.2,235.5 722.6,231.9 727.6,229.0 C732.6,226.1 738.9,223.2 745.2,220.3 C751.5,217.4 758.5,214.2 765.2,211.5 C771.9,208.8 778.6,206.2 785.3,204.0 C792.0,201.8 799.0,200.6 805.3,198.5 C811.6,196.4 816.7,194.3 822.9,191.5 C829.1,188.7 836.4,184.8 842.6,181.4 C848.8,178.1 854.1,174.7 860.0,171.4 C865.9,168.1 871.8,164.7 877.7,161.4 C883.6,158.1 889.8,154.8 895.2,151.4 C900.6,148.1 905.3,144.7 910.3,141.3 C915.3,138.0 920.5,134.6 925.3,131.3 C930.1,128.0 936.7,123.1 939.0,121.5"/>
<path d="M775.6,705.5 C777.3,704.3 782.4,701.4 785.7,698.5 C789.1,695.6 793.0,691.8 795.7,688.4 C798.4,685.0 799.4,682.1 802.0,678.4 C804.6,674.7 807.9,671.4 811.3,666.4 C814.7,661.4 819.0,653.6 822.6,648.3 C826.2,643.0 828.8,638.5 832.6,634.5 C836.4,630.5 840.2,628.0 845.2,624.5 C850.2,621.0 856.9,617.0 862.7,613.2 C868.6,609.5 875.3,605.1 880.3,602.0 C885.3,598.9 887.8,596.7 892.8,594.4 C897.8,592.1 904.1,589.5 910.4,588.0 C916.7,586.5 923.7,586.4 930.4,585.6 C937.1,584.8 943.8,584.3 950.5,583.0 C957.2,581.7 964.2,580.3 970.5,578.0 C976.8,575.7 982.6,572.4 988.0,569.3 C993.4,566.2 998.4,562.8 1003.0,559.3 C1007.6,555.8 1012.0,551.5 1015.6,548.0 C1019.2,544.5 1022.3,541.4 1024.4,538.0 C1026.5,534.6 1026.8,531.9 1028.0,527.7 C1029.2,523.5 1031.2,517.5 1031.9,512.7 C1032.6,507.9 1033.0,502.9 1031.9,498.9 C1030.9,494.9 1027.9,492.4 1025.6,488.9 C1023.3,485.3 1020.1,482.0 1018.0,477.6 C1015.9,473.2 1014.0,467.2 1013.0,462.6 C1012.0,458.0 1011.8,453.4 1012.0,450.0 C1012.2,446.6 1012.8,444.4 1014.0,442.0 C1015.2,439.6 1017.0,438.0 1019.3,435.4 C1021.6,432.8 1024.9,429.3 1028.0,426.6 C1031.1,423.9 1034.4,421.3 1038.0,419.0 C1041.6,416.7 1047.6,413.8 1049.5,412.8"/>
<path d="M939.2,705.5 C941.1,703.5 946.1,698.3 950.5,693.4 C954.9,688.5 960.5,681.3 965.5,675.9 C970.5,670.5 975.5,665.4 980.5,660.8 C985.5,656.2 990.6,652.5 995.6,648.3 C1000.6,644.1 1005.6,639.8 1010.6,635.8 C1015.6,631.8 1021.1,627.4 1025.7,624.5 C1030.3,621.6 1034.2,620.9 1038.2,618.2 C1042.2,615.5 1047.6,609.9 1049.5,608.2"/>
<path d="M429.0,219.0 C429.1,217.5 429.8,215.6 431.0,214.5 C432.2,213.4 434.2,212.6 436.0,212.5 C437.8,212.4 440.3,212.9 441.5,214.0 C442.7,215.1 443.2,217.3 443.0,219.0 C442.8,220.7 441.8,222.9 440.5,224.0 C439.2,225.1 436.7,225.6 435.0,225.5 C433.3,225.4 431.5,224.6 430.5,223.5 C429.5,222.4 428.9,220.5 429.0,219.0Z"/>
</g>
<g transform="translate(77.2,166.7) rotate(-88.0)"><rect x="-6.9" y="-4.9" width="13.8" height="9.8" fill="#fff"/><text x="0" y="3.2" text-anchor="middle" font-size="9.2" fill="#000" stroke="#000" stroke-width="0.25" textLength="12.2" lengthAdjust="spacingAndGlyphs">-10</text></g>
<g transform="translate(226.0,622.4) rotate(70.0)"><rect x="-6.9" y="-4.9" width="13.8" height="9.8" fill="#fff"/><text x="0" y="3.2" text-anchor="middle" font-size="9.2" fill="#000" stroke="#000" stroke-width="0.25" textLength="12.2" lengthAdjust="spacingAndGlyphs">-10</text></g>
<g transform="translate(172.0,172.0) rotate(83.0)"><rect x="-6.9" y="-4.9" width="13.8" height="9.8" fill="#fff"/><text x="0" y="3.2" text-anchor="middle" font-size="9.2" fill="#000" stroke="#000" stroke-width="0.25" textLength="12.2" lengthAdjust="spacingAndGlyphs">-15</text></g>
<g transform="translate(370.5,546.0) rotate(13.0)"><rect x="-6.9" y="-4.9" width="13.8" height="9.8" fill="#fff"/><text x="0" y="3.2" text-anchor="middle" font-size="9.2" fill="#000" stroke="#000" stroke-width="0.25" textLength="12.2" lengthAdjust="spacingAndGlyphs">-15</text></g>
<g transform="translate(252.0,248.0) rotate(82.0)"><rect x="-6.9" y="-4.9" width="13.8" height="9.8" fill="#fff"/><text x="0" y="3.2" text-anchor="middle" font-size="9.2" fill="#000" stroke="#000" stroke-width="0.25" textLength="12.2" lengthAdjust="spacingAndGlyphs">-20</text></g>
<g transform="translate(572.4,509.6) rotate(0.0)"><rect x="-6.9" y="-4.9" width="13.8" height="9.8" fill="#fff"/><text x="0" y="3.2" text-anchor="middle" font-size="9.2" fill="#000" stroke="#000" stroke-width="0.25" textLength="12.2" lengthAdjust="spacingAndGlyphs">-20</text></g>
<g transform="translate(277.6,157.8) rotate(83.0)"><rect x="-6.9" y="-4.9" width="13.8" height="9.8" fill="#fff"/><text x="0" y="3.2" text-anchor="middle" font-size="9.2" fill="#000" stroke="#000" stroke-width="0.25" textLength="12.2" lengthAdjust="spacingAndGlyphs">-25</text></g>
<g transform="translate(500.0,488.8) rotate(-3.0)"><rect x="-6.9" y="-4.9" width="13.8" height="9.8" fill="#fff"/><text x="0" y="3.2" text-anchor="middle" font-size="9.2" fill="#000" stroke="#000" stroke-width="0.25" textLength="12.2" lengthAdjust="spacingAndGlyphs">-25</text></g>
<g transform="translate(899.5,359.7) rotate(-40.0)"><rect x="-6.9" y="-4.9" width="13.8" height="9.8" fill="#fff"/><text x="0" y="3.2" text-anchor="middle" font-size="9.2" fill="#000" stroke="#000" stroke-width="0.25" textLength="12.2" lengthAdjust="spacingAndGlyphs">-25</text></g>
<g transform="translate(305.2,150.8) rotate(88.0)"><rect x="-6.9" y="-4.9" width="13.8" height="9.8" fill="#fff"/><text x="0" y="3.2" text-anchor="middle" font-size="9.2" fill="#000" stroke="#000" stroke-width="0.25" textLength="12.2" lengthAdjust="spacingAndGlyphs">-30</text></g>
<g transform="translate(572.0,452.4) rotate(-9.0)"><rect x="-6.9" y="-4.9" width="13.8" height="9.8" fill="#fff"/><text x="0" y="3.2" text-anchor="middle" font-size="9.2" fill="#000" stroke="#000" stroke-width="0.25" textLength="12.2" lengthAdjust="spacingAndGlyphs">-30</text></g>
<g transform="translate(928.6,262.2) rotate(-32.0)"><rect x="-6.9" y="-4.9" width="13.8" height="9.8" fill="#fff"/><text x="0" y="3.2" text-anchor="middle" font-size="9.2" fill="#000" stroke="#000" stroke-width="0.25" textLength="12.2" lengthAdjust="spacingAndGlyphs">-30</text></g>
<g transform="translate(333.4,151.0) rotate(-82.0)"><rect x="-6.9" y="-4.9" width="13.8" height="9.8" fill="#fff"/><text x="0" y="3.2" text-anchor="middle" font-size="9.2" fill="#000" stroke="#000" stroke-width="0.25" textLength="12.2" lengthAdjust="spacingAndGlyphs">-35</text></g>
<g transform="translate(766.6,301.3) rotate(-52.0)"><rect x="-6.9" y="-4.9" width="13.8" height="9.8" fill="#fff"/><text x="0" y="3.2" text-anchor="middle" font-size="9.2" fill="#000" stroke="#000" stroke-width="0.25" textLength="12.2" lengthAdjust="spacingAndGlyphs">-35</text></g>
<g transform="translate(576.0,127.0) rotate(2.0)"><rect x="-6.9" y="-4.9" width="13.8" height="9.8" fill="#fff"/><text x="0" y="3.2" text-anchor="middle" font-size="9.2" fill="#000" stroke="#000" stroke-width="0.25" textLength="12.2" lengthAdjust="spacingAndGlyphs">-40</text></g>
<g transform="translate(811.3,666.4) rotate(-58.0)"><rect x="-6.9" y="-4.9" width="13.8" height="9.8" fill="#fff"/><text x="0" y="3.2" text-anchor="middle" font-size="9.2" fill="#000" stroke="#000" stroke-width="0.25" textLength="12.2" lengthAdjust="spacingAndGlyphs">-20</text></g>
<g transform="translate(950.0,692.0) rotate(-47.0)"><rect x="-6.9" y="-4.9" width="13.8" height="9.8" fill="#fff"/><text x="0" y="3.2" text-anchor="middle" font-size="9.2" fill="#000" stroke="#000" stroke-width="0.25" textLength="12.2" lengthAdjust="spacingAndGlyphs">-15</text></g>
</g>
<rect x="30.5" y="121.5" width="1019.0" height="584.0" fill="none" stroke="#222" stroke-width="0.7"/>
<rect x="81.00" y="88.5" width="183.60" height="22.8" fill="#ffff00"/>
<rect x="264.60" y="88.5" width="183.60" height="22.8" fill="#ffd700"/>
<rect x="448.20" y="88.5" width="183.60" height="22.8" fill="#ffa500"/>
<rect x="631.80" y="88.5" width="183.60" height="22.8" fill="#ff6600"/>
<rect x="815.40" y="88.5" width="183.60" height="22.8" fill="#ff0000"/>
<line x1="264.60" y1="88.5" x2="264.60" y2="111.3" stroke="#000" stroke-width="0.9"/>
<line x1="448.20" y1="88.5" x2="448.20" y2="111.3" stroke="#000" stroke-width="0.9"/>
<line x1="631.80" y1="88.5" x2="631.80" y2="111.3" stroke="#000" stroke-width="0.9"/>
<line x1="815.40" y1="88.5" x2="815.40" y2="111.3" stroke="#000" stroke-width="0.9"/>
<rect x="81.0" y="88.5" width="918.0" height="22.8" fill="none" stroke="#000" stroke-width="1"/>
<text x="81.00" y="81.2" text-anchor="middle" font-size="9.2" fill="#000">1</text>
<text x="264.60" y="81.2" text-anchor="middle" font-size="9.2" fill="#000">2</text>
<text x="448.20" y="81.2" text-anchor="middle" font-size="9.2" fill="#000">3</text>
<text x="631.80" y="81.2" text-anchor="middle" font-size="9.2" fill="#000">5</text>
<text x="815.40" y="81.2" text-anchor="middle" font-size="9.2" fill="#000">7</text>
<text x="999.00" y="81.2" text-anchor="middle" font-size="9.2" fill="#000">10</text>
<text x="291.6" y="67" font-size="13" fill="#000" textLength="497" lengthAdjust="spacingAndGlyphs">IFS - T500 (°C) mean and spread, Init: 20251123 00z - Valid: 20251201:00 TU</text>
<text x="857.2" y="680.9" font-size="8.9" fill="#000" textLength="165.5" lengthAdjust="spacingAndGlyphs">from grib files provided by ECMWF</text>
<text x="916" y="700.4" font-size="8.9" fill="#000" textLength="106.7" lengthAdjust="spacingAndGlyphs">©2025 sb@irizone.net</text></svg>
</body></html>
